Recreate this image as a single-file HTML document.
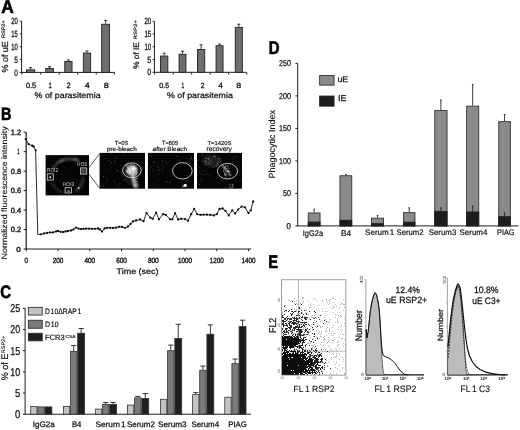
<!DOCTYPE html>
<html><head><meta charset="utf-8"><style>
html,body{margin:0;padding:0;background:#fff;}
body{width:520px;height:430px;overflow:hidden;}
svg{display:block;font-family:"Liberation Sans",Arial,sans-serif;text-rendering:geometricPrecision;}
</style></head><body>
<svg width="520" height="430" viewBox="0 0 520 430">
<rect width="520" height="430" fill="#fff"/>
<text transform="translate(1.2 12.6) scale(0.95 1)" font-size="18.31" font-weight="bold" fill="#000" stroke="#000" stroke-width="0.6">A</text>
<line x1="21.6" y1="21.1" x2="21.6" y2="72.9" stroke="#1e1e1e" stroke-width="1"/>
<line x1="21.6" y1="72.4" x2="114.6" y2="72.4" stroke="#1e1e1e" stroke-width="1"/>
<line x1="19.8" y1="72.4" x2="21.6" y2="72.4" stroke="#1e1e1e" stroke-width="1"/>
<line x1="19.8" y1="59.58" x2="21.6" y2="59.58" stroke="#1e1e1e" stroke-width="1"/>
<line x1="19.8" y1="46.75" x2="21.6" y2="46.75" stroke="#1e1e1e" stroke-width="1"/>
<line x1="19.8" y1="33.93" x2="21.6" y2="33.93" stroke="#1e1e1e" stroke-width="1"/>
<line x1="19.8" y1="21.1" x2="21.6" y2="21.1" stroke="#1e1e1e" stroke-width="1"/>
<line x1="22" y1="72.4" x2="22" y2="74.6" stroke="#1e1e1e" stroke-width="1"/>
<line x1="40.8" y1="72.4" x2="40.8" y2="74.6" stroke="#1e1e1e" stroke-width="1"/>
<line x1="59.2" y1="72.4" x2="59.2" y2="74.6" stroke="#1e1e1e" stroke-width="1"/>
<line x1="77.7" y1="72.4" x2="77.7" y2="74.6" stroke="#1e1e1e" stroke-width="1"/>
<line x1="96.2" y1="72.4" x2="96.2" y2="74.6" stroke="#1e1e1e" stroke-width="1"/>
<line x1="114.3" y1="72.4" x2="114.3" y2="74.6" stroke="#1e1e1e" stroke-width="1"/>
<text transform="translate(14.2 75.51) scale(0.72 1)" font-size="9.04" fill="#111" stroke="#111" stroke-width="0.3">0</text>
<text transform="translate(14.2 62.68) scale(0.71 1)" font-size="9.17" fill="#111" stroke="#111" stroke-width="0.3">5</text>
<text transform="translate(11.3 49.86) scale(0.65 1)" font-size="9.04" fill="#111" stroke="#111" stroke-width="0.3">10</text>
<text transform="translate(11.3 37.03) scale(0.64 1)" font-size="9.17" fill="#111" stroke="#111" stroke-width="0.3">15</text>
<text transform="translate(11.3 24.21) scale(0.65 1)" font-size="9.04" fill="#111" stroke="#111" stroke-width="0.3">20</text>
<line x1="30.65" y1="69.4" x2="30.65" y2="67.6" stroke="#222" stroke-width="0.9"/>
<line x1="29.05" y1="67.6" x2="32.25" y2="67.6" stroke="#222" stroke-width="0.9"/>
<rect x="26.55" y="69.85" width="8.2" height="2.55" fill="#6e6e6e" stroke="#222" stroke-width="0.9"/>
<line x1="49.6" y1="68.1" x2="49.6" y2="66.7" stroke="#222" stroke-width="0.9"/>
<line x1="48" y1="66.7" x2="51.2" y2="66.7" stroke="#222" stroke-width="0.9"/>
<rect x="45.75" y="68.55" width="7.7" height="3.85" fill="#6e6e6e" stroke="#222" stroke-width="0.9"/>
<line x1="68.4" y1="61" x2="68.4" y2="60" stroke="#222" stroke-width="0.9"/>
<line x1="66.8" y1="60" x2="70" y2="60" stroke="#222" stroke-width="0.9"/>
<rect x="64.75" y="61.45" width="7.3" height="10.95" fill="#6e6e6e" stroke="#222" stroke-width="0.9"/>
<line x1="87" y1="52.6" x2="87" y2="51" stroke="#222" stroke-width="0.9"/>
<line x1="85.4" y1="51" x2="88.6" y2="51" stroke="#222" stroke-width="0.9"/>
<rect x="83.35" y="53.05" width="7.3" height="19.35" fill="#6e6e6e" stroke="#222" stroke-width="0.9"/>
<line x1="105.6" y1="23.8" x2="105.6" y2="20.3" stroke="#222" stroke-width="0.9"/>
<line x1="104" y1="20.3" x2="107.2" y2="20.3" stroke="#222" stroke-width="0.9"/>
<rect x="101.65" y="24.25" width="7.9" height="48.15" fill="#6e6e6e" stroke="#222" stroke-width="0.9"/>
<text transform="translate(25.9 88.32) scale(0.95 1)" font-size="7.63" fill="#111" stroke="#111" stroke-width="0.3">0.5</text>
<text transform="translate(48.5 88.4) scale(0.73 1)" font-size="7.85" fill="#111" stroke="#111" stroke-width="0.3">1</text>
<text transform="translate(66.6 88.4) scale(0.95 1)" font-size="7.74" fill="#111" stroke="#111" stroke-width="0.3">2</text>
<text transform="translate(84.8 88.4) scale(1.15 1)" font-size="7.85" fill="#111" stroke="#111" stroke-width="0.3">4</text>
<text transform="translate(103.8 88.32) scale(1.18 1)" font-size="7.63" fill="#111" stroke="#111" stroke-width="0.3">8</text>
<text transform="translate(34.6 97.81) scale(1.09 1)" font-size="8.15" fill="#111" stroke="#111" stroke-width="0.25">% of parasitemia</text>
<text transform="translate(7.91 72.6) scale(0.98 1) rotate(-90)" font-size="8.99" fill="#111" stroke="#111" stroke-width="0.25">% of uE</text>
<text transform="translate(4.75 38) scale(0.89 1) rotate(-90)" font-size="5.54" fill="#111" stroke="#111" stroke-width="0.2">RSP2+</text>
<line x1="154.4" y1="21.3" x2="154.4" y2="72.8" stroke="#1e1e1e" stroke-width="1"/>
<line x1="154.4" y1="72.3" x2="246.5" y2="72.3" stroke="#1e1e1e" stroke-width="1"/>
<line x1="152.6" y1="72.3" x2="154.4" y2="72.3" stroke="#1e1e1e" stroke-width="1"/>
<line x1="152.6" y1="59.55" x2="154.4" y2="59.55" stroke="#1e1e1e" stroke-width="1"/>
<line x1="152.6" y1="46.8" x2="154.4" y2="46.8" stroke="#1e1e1e" stroke-width="1"/>
<line x1="152.6" y1="34.05" x2="154.4" y2="34.05" stroke="#1e1e1e" stroke-width="1"/>
<line x1="152.6" y1="21.3" x2="154.4" y2="21.3" stroke="#1e1e1e" stroke-width="1"/>
<line x1="154.6" y1="72.3" x2="154.6" y2="74.5" stroke="#1e1e1e" stroke-width="1"/>
<line x1="173.2" y1="72.3" x2="173.2" y2="74.5" stroke="#1e1e1e" stroke-width="1"/>
<line x1="191.6" y1="72.3" x2="191.6" y2="74.5" stroke="#1e1e1e" stroke-width="1"/>
<line x1="210.2" y1="72.3" x2="210.2" y2="74.5" stroke="#1e1e1e" stroke-width="1"/>
<line x1="228.6" y1="72.3" x2="228.6" y2="74.5" stroke="#1e1e1e" stroke-width="1"/>
<line x1="246.8" y1="72.3" x2="246.8" y2="74.5" stroke="#1e1e1e" stroke-width="1"/>
<text transform="translate(147.3 75.41) scale(0.78 1)" font-size="9.04" fill="#111" stroke="#111" stroke-width="0.3">0</text>
<text transform="translate(147.3 62.66) scale(0.77 1)" font-size="9.17" fill="#111" stroke="#111" stroke-width="0.3">5</text>
<text transform="translate(144.5 49.91) scale(0.67 1)" font-size="9.04" fill="#111" stroke="#111" stroke-width="0.3">10</text>
<text transform="translate(144.5 37.16) scale(0.66 1)" font-size="9.17" fill="#111" stroke="#111" stroke-width="0.3">15</text>
<text transform="translate(144.5 24.41) scale(0.67 1)" font-size="9.04" fill="#111" stroke="#111" stroke-width="0.3">20</text>
<line x1="164.2" y1="55.6" x2="164.2" y2="53.2" stroke="#222" stroke-width="0.9"/>
<line x1="162.6" y1="53.2" x2="165.8" y2="53.2" stroke="#222" stroke-width="0.9"/>
<rect x="160.55" y="56.05" width="7.3" height="16.25" fill="#6e6e6e" stroke="#222" stroke-width="0.9"/>
<line x1="182.5" y1="53.8" x2="182.5" y2="51.2" stroke="#222" stroke-width="0.9"/>
<line x1="180.9" y1="51.2" x2="184.1" y2="51.2" stroke="#222" stroke-width="0.9"/>
<rect x="179.05" y="54.25" width="6.9" height="18.05" fill="#6e6e6e" stroke="#222" stroke-width="0.9"/>
<line x1="201.1" y1="49" x2="201.1" y2="44.8" stroke="#222" stroke-width="0.9"/>
<line x1="199.5" y1="44.8" x2="202.7" y2="44.8" stroke="#222" stroke-width="0.9"/>
<rect x="197.45" y="49.45" width="7.3" height="22.85" fill="#6e6e6e" stroke="#222" stroke-width="0.9"/>
<line x1="219.55" y1="45.3" x2="219.55" y2="44.2" stroke="#222" stroke-width="0.9"/>
<line x1="217.95" y1="44.2" x2="221.15" y2="44.2" stroke="#222" stroke-width="0.9"/>
<rect x="216.05" y="45.75" width="7" height="26.55" fill="#6e6e6e" stroke="#222" stroke-width="0.9"/>
<line x1="238.8" y1="26.9" x2="238.8" y2="24.2" stroke="#222" stroke-width="0.9"/>
<line x1="237.2" y1="24.2" x2="240.4" y2="24.2" stroke="#222" stroke-width="0.9"/>
<rect x="235.25" y="27.35" width="7.1" height="44.95" fill="#6e6e6e" stroke="#222" stroke-width="0.9"/>
<text transform="translate(159.3 87.93) scale(0.94 1)" font-size="7.49" fill="#111" stroke="#111" stroke-width="0.3">0.5</text>
<text transform="translate(181.6 88) scale(0.63 1)" font-size="7.7" fill="#111" stroke="#111" stroke-width="0.3">1</text>
<text transform="translate(200.8 88) scale(0.9 1)" font-size="7.59" fill="#111" stroke="#111" stroke-width="0.3">2</text>
<text transform="translate(218.5 88) scale(1 1)" font-size="7.7" fill="#111" stroke="#111" stroke-width="0.3">4</text>
<text transform="translate(236.3 87.93) scale(1.18 1)" font-size="7.49" fill="#111" stroke="#111" stroke-width="0.3">8</text>
<text transform="translate(167 97.93) scale(1.1 1)" font-size="8.04" fill="#111" stroke="#111" stroke-width="0.25">% of parasitemia</text>
<text transform="translate(139.32 68.8) scale(0.99 1) rotate(-90)" font-size="8.25" fill="#111" stroke="#111" stroke-width="0.25">% of IE</text>
<text transform="translate(137.35 39.4) scale(0.79 1) rotate(-90)" font-size="6.07" fill="#111" stroke="#111" stroke-width="0.2">RSP2+</text>
<text transform="translate(1 119.6) scale(0.81 1)" font-size="17.88" font-weight="bold" fill="#000" stroke="#000" stroke-width="0.6">B</text>
<line x1="26.2" y1="132.18" x2="26.2" y2="249.5" stroke="#1e1e1e" stroke-width="1.2"/>
<line x1="26.2" y1="249" x2="251.2" y2="249" stroke="#1e1e1e" stroke-width="1.2"/>
<line x1="23.6" y1="249" x2="26.2" y2="249" stroke="#1e1e1e" stroke-width="1"/>
<line x1="23.6" y1="229.53" x2="26.2" y2="229.53" stroke="#1e1e1e" stroke-width="1"/>
<line x1="23.6" y1="210.06" x2="26.2" y2="210.06" stroke="#1e1e1e" stroke-width="1"/>
<line x1="23.6" y1="190.59" x2="26.2" y2="190.59" stroke="#1e1e1e" stroke-width="1"/>
<line x1="23.6" y1="171.12" x2="26.2" y2="171.12" stroke="#1e1e1e" stroke-width="1"/>
<line x1="23.6" y1="151.65" x2="26.2" y2="151.65" stroke="#1e1e1e" stroke-width="1"/>
<line x1="23.6" y1="132.18" x2="26.2" y2="132.18" stroke="#1e1e1e" stroke-width="1"/>
<line x1="26.3" y1="249" x2="26.3" y2="251.2" stroke="#1e1e1e" stroke-width="1"/>
<line x1="58.04" y1="249" x2="58.04" y2="251.2" stroke="#1e1e1e" stroke-width="1"/>
<line x1="89.78" y1="249" x2="89.78" y2="251.2" stroke="#1e1e1e" stroke-width="1"/>
<line x1="121.52" y1="249" x2="121.52" y2="251.2" stroke="#1e1e1e" stroke-width="1"/>
<line x1="153.26" y1="249" x2="153.26" y2="251.2" stroke="#1e1e1e" stroke-width="1"/>
<line x1="185" y1="249" x2="185" y2="251.2" stroke="#1e1e1e" stroke-width="1"/>
<line x1="216.74" y1="249" x2="216.74" y2="251.2" stroke="#1e1e1e" stroke-width="1"/>
<line x1="248.48" y1="249" x2="248.48" y2="251.2" stroke="#1e1e1e" stroke-width="1"/>
<text transform="translate(16.3 251.53) scale(1.13 1)" font-size="7.34" fill="#111" stroke="#111" stroke-width="0.35">0</text>
<text transform="translate(10.8 232.11) scale(0.99 1)" font-size="7.49" fill="#111" stroke="#111" stroke-width="0.35">0.2</text>
<text transform="translate(10.8 212.64) scale(0.99 1)" font-size="7.49" fill="#111" stroke="#111" stroke-width="0.35">0.4</text>
<text transform="translate(10.8 193.17) scale(0.99 1)" font-size="7.49" fill="#111" stroke="#111" stroke-width="0.35">0.6</text>
<text transform="translate(10.8 173.7) scale(0.99 1)" font-size="7.49" fill="#111" stroke="#111" stroke-width="0.35">0.8</text>
<text transform="translate(17.3 154.25) scale(0.55 1)" font-size="7.56" fill="#111" stroke="#111" stroke-width="0.35">1</text>
<text transform="translate(10.8 134.83) scale(0.98 1)" font-size="7.59" fill="#111" stroke="#111" stroke-width="0.35">1.2</text>
<text transform="translate(24.6 263.13) scale(0.82 1)" font-size="7.49" fill="#111" stroke="#111" stroke-width="0.35">0</text>
<text transform="translate(52.69 263.13) scale(0.86 1)" font-size="7.49" fill="#111" stroke="#111" stroke-width="0.35">200</text>
<text transform="translate(84.43 263.13) scale(0.86 1)" font-size="7.49" fill="#111" stroke="#111" stroke-width="0.35">400</text>
<text transform="translate(116.17 263.13) scale(0.86 1)" font-size="7.49" fill="#111" stroke="#111" stroke-width="0.35">600</text>
<text transform="translate(147.91 263.13) scale(0.86 1)" font-size="7.49" fill="#111" stroke="#111" stroke-width="0.35">800</text>
<text transform="translate(178 263.13) scale(0.84 1)" font-size="7.49" fill="#111" stroke="#111" stroke-width="0.35">1000</text>
<text transform="translate(209.74 263.13) scale(0.84 1)" font-size="7.49" fill="#111" stroke="#111" stroke-width="0.35">1200</text>
<text transform="translate(241.48 263.13) scale(0.84 1)" font-size="7.49" fill="#111" stroke="#111" stroke-width="0.35">1400</text>
<text transform="translate(116.6 273.73) scale(1.11 1)" font-size="8.05" fill="#111" stroke="#111" stroke-width="0.25">Time (sec)</text>
<text transform="translate(7.25 259.4) scale(0.89 1) rotate(-90)" font-size="8.91" fill="#111" stroke="#111" stroke-width="0.12">Normalized fluorescence intensity</text>
<polyline points="25.8,139.2 28.7,144.2 32.2,145.7 33.6,146.5 35.6,150.3 37.8,234.5 41,234.3 44,233.5 47,233 50,232.5 53,232.4 56,231.5 58,231 60.5,231.8 63,232.1 65.5,231.5 68,231 71,230.5 73.5,229.5 76,227.6 78.5,228.6 81,229.1 83.5,228.8 86,228.7 89,228.7 92,228.8 95,228.8 98,228.5 100,229.5 102,231.5 104.5,228.5 107,227.8 110,227.8 113,228 116,227.7 119,226.8 122,227 125,227.8 128,226.5 130.5,224 133,221.5 136,220.5 140,219.5 143.5,221.2 146.5,213.1 150.4,217.7 152.7,218.8 156.2,212.6 158.9,219.3 163.1,214.2 165.8,214.9 170,219.3 172.3,219.3 175.1,213.1 178.1,219.5 181.1,218.8 185,219.1 188,220.7 191.2,214.2 194.2,208.9 197.2,214.2 200.5,214.9 203.5,214.7 206.9,214.7 210.4,214.9 213.8,215.4 216.8,214.2 219.6,208.9 222.6,208.5 225.4,210.8 228.8,215.4 232.3,210.3 235.1,213.5 238.1,209.6 241.5,206.6 245,207.3 248.5,213.1 250.8,210.3 253.1,201.5" fill="none" stroke="#111" stroke-width="0.9" stroke-linejoin="round"/>
<g fill="#111"><circle cx="25.8" cy="139.2" r="1.15"/><circle cx="28.7" cy="144.2" r="1.15"/><circle cx="32.2" cy="145.7" r="1.15"/><circle cx="33.6" cy="146.5" r="1.15"/><circle cx="35.6" cy="150.3" r="1.15"/><circle cx="41" cy="234.3" r="1.15"/><circle cx="44" cy="233.5" r="1.15"/><circle cx="47" cy="233" r="1.15"/><circle cx="50" cy="232.5" r="1.15"/><circle cx="53" cy="232.4" r="1.15"/><circle cx="56" cy="231.5" r="1.15"/><circle cx="58" cy="231" r="1.15"/><circle cx="60.5" cy="231.8" r="1.15"/><circle cx="63" cy="232.1" r="1.15"/><circle cx="65.5" cy="231.5" r="1.15"/><circle cx="68" cy="231" r="1.15"/><circle cx="71" cy="230.5" r="1.15"/><circle cx="73.5" cy="229.5" r="1.15"/><circle cx="76" cy="227.6" r="1.15"/><circle cx="78.5" cy="228.6" r="1.15"/><circle cx="81" cy="229.1" r="1.15"/><circle cx="83.5" cy="228.8" r="1.15"/><circle cx="86" cy="228.7" r="1.15"/><circle cx="89" cy="228.7" r="1.15"/><circle cx="92" cy="228.8" r="1.15"/><circle cx="95" cy="228.8" r="1.15"/><circle cx="98" cy="228.5" r="1.15"/><circle cx="100" cy="229.5" r="1.15"/><circle cx="102" cy="231.5" r="1.15"/><circle cx="104.5" cy="228.5" r="1.15"/><circle cx="107" cy="227.8" r="1.15"/><circle cx="110" cy="227.8" r="1.15"/><circle cx="113" cy="228" r="1.15"/><circle cx="116" cy="227.7" r="1.15"/><circle cx="119" cy="226.8" r="1.15"/><circle cx="122" cy="227" r="1.15"/><circle cx="125" cy="227.8" r="1.15"/><circle cx="128" cy="226.5" r="1.15"/><circle cx="130.5" cy="224" r="1.15"/><circle cx="133" cy="221.5" r="1.15"/><circle cx="136" cy="220.5" r="1.15"/><circle cx="140" cy="219.5" r="1.15"/><circle cx="143.5" cy="221.2" r="1.15"/><circle cx="146.5" cy="213.1" r="1.15"/><circle cx="150.4" cy="217.7" r="1.15"/><circle cx="152.7" cy="218.8" r="1.15"/><circle cx="156.2" cy="212.6" r="1.15"/><circle cx="158.9" cy="219.3" r="1.15"/><circle cx="163.1" cy="214.2" r="1.15"/><circle cx="165.8" cy="214.9" r="1.15"/><circle cx="170" cy="219.3" r="1.15"/><circle cx="172.3" cy="219.3" r="1.15"/><circle cx="175.1" cy="213.1" r="1.15"/><circle cx="178.1" cy="219.5" r="1.15"/><circle cx="181.1" cy="218.8" r="1.15"/><circle cx="185" cy="219.1" r="1.15"/><circle cx="188" cy="220.7" r="1.15"/><circle cx="191.2" cy="214.2" r="1.15"/><circle cx="194.2" cy="208.9" r="1.15"/><circle cx="197.2" cy="214.2" r="1.15"/><circle cx="200.5" cy="214.9" r="1.15"/><circle cx="203.5" cy="214.7" r="1.15"/><circle cx="206.9" cy="214.7" r="1.15"/><circle cx="210.4" cy="214.9" r="1.15"/><circle cx="213.8" cy="215.4" r="1.15"/><circle cx="216.8" cy="214.2" r="1.15"/><circle cx="219.6" cy="208.9" r="1.15"/><circle cx="222.6" cy="208.5" r="1.15"/><circle cx="225.4" cy="210.8" r="1.15"/><circle cx="228.8" cy="215.4" r="1.15"/><circle cx="232.3" cy="210.3" r="1.15"/><circle cx="235.1" cy="213.5" r="1.15"/><circle cx="238.1" cy="209.6" r="1.15"/><circle cx="241.5" cy="206.6" r="1.15"/><circle cx="245" cy="207.3" r="1.15"/><circle cx="248.5" cy="213.1" r="1.15"/><circle cx="250.8" cy="210.3" r="1.15"/><circle cx="253.1" cy="201.5" r="1.15"/></g>
<defs><filter id="bl1" x="-50%" y="-50%" width="200%" height="200%"><feGaussianBlur stdDeviation="0.9"/></filter><filter id="bl2" x="-50%" y="-50%" width="200%" height="200%"><feGaussianBlur stdDeviation="1.6"/></filter><filter id="bl05" x="-50%" y="-50%" width="200%" height="200%"><feGaussianBlur stdDeviation="0.45"/></filter><clipPath id="cpo"><rect x="45.6" y="155.1" width="43.4" height="40.3"/></clipPath><clipPath id="cp1"><rect x="99.6" y="152.9" width="45.4" height="35.8"/></clipPath><clipPath id="cp2"><rect x="147.9" y="152.9" width="46.1" height="35.8"/></clipPath><clipPath id="cp3"><rect x="197.0" y="152.9" width="45.0" height="35.8"/></clipPath></defs>
<rect x="45.6" y="155.1" width="43.4" height="40.3" fill="#050505" stroke="none" stroke-width="1"/>
<g clip-path="url(#cpo)">
<g filter="url(#bl1)" fill="none" stroke-linecap="round">
<path d="M57 163 Q66 157 76 160" stroke="#5a5a5a" stroke-width="2.2"/>
<path d="M53 168 L56 165" stroke="#6a6a6a" stroke-width="1.4"/>
<path d="M83 178 Q82 187 76 191" stroke="#555" stroke-width="1.6"/>
<path d="M52 183 Q56 190 62 192" stroke="#3a3a3a" stroke-width="1.6"/>
<path d="M75 159 L79 161" stroke="#8a8a8a" stroke-width="1.4"/>
<path d="M61 161 L63 160" stroke="#888" stroke-width="1.8"/>
</g>
<circle cx="78.6" cy="187.9" r="0.9" fill="#ddd"/>
<rect x="59.44" y="161.31" width="0.53" height="0.53" fill="rgb(46,46,46)"/><rect x="68.24" y="169.58" width="0.7" height="0.7" fill="rgb(22,22,22)"/><rect x="47.56" y="172.2" width="0.54" height="0.54" fill="rgb(22,22,22)"/><rect x="63.62" y="187.33" width="0.59" height="0.59" fill="rgb(24,24,24)"/><rect x="72.04" y="191.99" width="0.66" height="0.66" fill="rgb(43,43,43)"/><rect x="86.51" y="157.29" width="0.62" height="0.62" fill="rgb(54,54,54)"/><rect x="51.99" y="160.04" width="0.83" height="0.83" fill="rgb(32,32,32)"/><rect x="53.5" y="177.89" width="0.65" height="0.65" fill="rgb(45,45,45)"/><rect x="68.73" y="157.92" width="0.58" height="0.58" fill="rgb(22,22,22)"/><rect x="74.24" y="171.96" width="0.73" height="0.73" fill="rgb(32,32,32)"/><rect x="64.81" y="167.04" width="0.78" height="0.78" fill="rgb(51,51,51)"/><rect x="56.13" y="177.62" width="0.85" height="0.85" fill="rgb(41,41,41)"/><rect x="76.27" y="166.59" width="0.55" height="0.55" fill="rgb(59,59,59)"/><rect x="63.35" y="184.65" width="0.7" height="0.7" fill="rgb(26,26,26)"/><rect x="47.63" y="181.23" width="0.73" height="0.73" fill="rgb(50,50,50)"/><rect x="82.33" y="167.58" width="0.74" height="0.74" fill="rgb(47,47,47)"/><rect x="70.07" y="173.06" width="0.88" height="0.88" fill="rgb(53,53,53)"/><rect x="65.68" y="181.07" width="0.78" height="0.78" fill="rgb(22,22,22)"/><rect x="72.86" y="193.73" width="0.61" height="0.61" fill="rgb(52,52,52)"/><rect x="62.01" y="181.24" width="0.68" height="0.68" fill="rgb(20,20,20)"/><rect x="52.97" y="160.01" width="0.81" height="0.81" fill="rgb(22,22,22)"/><rect x="51.37" y="165.03" width="0.85" height="0.85" fill="rgb(35,35,35)"/><rect x="49.34" y="172.79" width="0.85" height="0.85" fill="rgb(41,41,41)"/><rect x="80" y="188.76" width="0.67" height="0.67" fill="rgb(31,31,31)"/><rect x="60.89" y="189.54" width="0.56" height="0.56" fill="rgb(58,58,58)"/><rect x="53.31" y="164.43" width="0.69" height="0.69" fill="rgb(29,29,29)"/><rect x="70.45" y="165.62" width="0.67" height="0.67" fill="rgb(20,20,20)"/><rect x="61.32" y="177.3" width="0.78" height="0.78" fill="rgb(58,58,58)"/><rect x="67.39" y="179.28" width="0.52" height="0.52" fill="rgb(47,47,47)"/><rect x="83.33" y="185.53" width="0.82" height="0.82" fill="rgb(54,54,54)"/>
</g>
<rect x="80.5" y="167.9" width="6.2" height="6.2" fill="#333" stroke="#cfcfcf" stroke-width="0.8"/>
<rect x="81.5" y="169" width="3.5" height="3.5" fill="#555" filter="url(#bl1)"/>
<rect x="47.3" y="173.8" width="6" height="6.3" fill="#111" stroke="#cfcfcf" stroke-width="0.8"/>
<rect x="65.1" y="187.7" width="6.3" height="5.3" fill="#111" stroke="#cfcfcf" stroke-width="0.8"/>
<circle cx="50.2" cy="177.2" r="0.9" fill="#eee"/>
<rect x="67.3" y="190.6" width="2.6" height="0.9" fill="#bbb"/>
<text transform="translate(77.3 166.25) scale(0.89 1)" font-size="5.23" fill="#cfcfcf">ROS</text>
<text transform="translate(47.1 172.24) scale(0.81 1)" font-size="5.79" fill="#cfcfcf">ROI2</text>
<text transform="translate(62.8 186.45) scale(0.94 1)" font-size="5.23" fill="#cfcfcf">ROI3</text>
<line x1="89" y1="167.6" x2="99.8" y2="153.3" stroke="#333" stroke-width="0.8"/>
<line x1="89" y1="174.2" x2="99.8" y2="188.4" stroke="#333" stroke-width="0.8"/>
<rect x="99.6" y="152.9" width="45.4" height="35.8" fill="#050505" stroke="none" stroke-width="1"/>
<rect x="147.9" y="152.9" width="46.1" height="35.8" fill="#050505" stroke="none" stroke-width="1"/>
<rect x="197" y="152.9" width="45" height="35.8" fill="#050505" stroke="none" stroke-width="1"/>
<g clip-path="url(#cp1)">
<ellipse cx="131" cy="173" rx="9" ry="11" fill="#181818" filter="url(#bl2)"/>
<rect x="117.02" y="166.78" width="0.82" height="0.82" fill="rgb(31,31,31)"/><rect x="102.36" y="155.24" width="0.58" height="0.58" fill="rgb(38,38,38)"/><rect x="114.7" y="154.73" width="0.58" height="0.58" fill="rgb(25,25,25)"/><rect x="104.11" y="165.55" width="0.94" height="0.94" fill="rgb(26,26,26)"/><rect x="126.86" y="158.07" width="0.67" height="0.67" fill="rgb(41,41,41)"/><rect x="115.77" y="157.17" width="1" height="1" fill="rgb(80,80,80)"/><rect x="120.29" y="169.74" width="0.55" height="0.55" fill="rgb(30,30,30)"/><rect x="114.81" y="162.11" width="0.58" height="0.58" fill="rgb(78,78,78)"/><rect x="100.63" y="185.99" width="0.57" height="0.57" fill="rgb(59,59,59)"/><rect x="123.72" y="153.84" width="0.99" height="0.99" fill="rgb(59,59,59)"/><rect x="137.93" y="177.13" width="0.68" height="0.68" fill="rgb(41,41,41)"/><rect x="107.02" y="179.76" width="0.89" height="0.89" fill="rgb(59,59,59)"/><rect x="114.24" y="160.66" width="0.99" height="0.99" fill="rgb(77,77,77)"/><rect x="137.46" y="180.95" width="0.87" height="0.87" fill="rgb(78,78,78)"/><rect x="109.67" y="170.91" width="0.51" height="0.51" fill="rgb(48,48,48)"/><rect x="100.84" y="162.62" width="0.85" height="0.85" fill="rgb(41,41,41)"/><rect x="142.07" y="168.46" width="0.99" height="0.99" fill="rgb(85,85,85)"/><rect x="142" y="165.59" width="0.61" height="0.61" fill="rgb(39,39,39)"/><rect x="108.33" y="160.01" width="0.95" height="0.95" fill="rgb(65,65,65)"/><rect x="136.92" y="169.59" width="0.9" height="0.9" fill="rgb(67,67,67)"/><rect x="103.36" y="175.89" width="0.89" height="0.89" fill="rgb(84,84,84)"/><rect x="132.91" y="169.54" width="0.89" height="0.89" fill="rgb(36,36,36)"/><rect x="114.36" y="180.77" width="0.7" height="0.7" fill="rgb(88,88,88)"/><rect x="117.42" y="185.85" width="0.59" height="0.59" fill="rgb(72,72,72)"/><rect x="105.24" y="158.16" width="0.9" height="0.9" fill="rgb(83,83,83)"/><rect x="106.09" y="181.66" width="0.83" height="0.83" fill="rgb(88,88,88)"/><rect x="115.16" y="171.99" width="0.51" height="0.51" fill="rgb(33,33,33)"/><rect x="142.71" y="175.51" width="0.97" height="0.97" fill="rgb(59,59,59)"/><rect x="118.86" y="183.24" width="0.61" height="0.61" fill="rgb(78,78,78)"/><rect x="110.78" y="163.1" width="0.79" height="0.79" fill="rgb(40,40,40)"/><rect x="111.12" y="167.48" width="0.96" height="0.96" fill="rgb(33,33,33)"/><rect x="115.31" y="168.84" width="0.95" height="0.95" fill="rgb(62,62,62)"/><rect x="118.28" y="184.84" width="0.77" height="0.77" fill="rgb(57,57,57)"/><rect x="122.84" y="153.55" width="0.59" height="0.59" fill="rgb(53,53,53)"/><rect x="99.77" y="180.71" width="0.74" height="0.74" fill="rgb(36,36,36)"/><rect x="131.8" y="172.27" width="0.76" height="0.76" fill="rgb(46,46,46)"/><rect x="124.26" y="180.19" width="0.78" height="0.78" fill="rgb(31,31,31)"/><rect x="110.63" y="162.54" width="0.75" height="0.75" fill="rgb(75,75,75)"/><rect x="124.54" y="179.35" width="0.72" height="0.72" fill="rgb(84,84,84)"/><rect x="126.8" y="170.49" width="0.85" height="0.85" fill="rgb(58,58,58)"/><rect x="119.68" y="171.46" width="0.97" height="0.97" fill="rgb(56,56,56)"/><rect x="130.65" y="183.4" width="0.63" height="0.63" fill="rgb(86,86,86)"/><rect x="124.44" y="185.73" width="0.57" height="0.57" fill="rgb(79,79,79)"/><rect x="105" y="168.29" width="0.62" height="0.62" fill="rgb(29,29,29)"/><rect x="102.85" y="176.2" width="0.95" height="0.95" fill="rgb(75,75,75)"/><rect x="106.46" y="177.82" width="0.57" height="0.57" fill="rgb(67,67,67)"/><rect x="138.8" y="186.57" width="0.98" height="0.98" fill="rgb(39,39,39)"/><rect x="117.28" y="169.86" width="0.92" height="0.92" fill="rgb(89,89,89)"/><rect x="106.77" y="167.92" width="0.67" height="0.67" fill="rgb(58,58,58)"/><rect x="108.29" y="163.98" width="0.51" height="0.51" fill="rgb(71,71,71)"/><rect x="124.2" y="168.23" width="0.67" height="0.67" fill="rgb(26,26,26)"/><rect x="127.3" y="170.73" width="0.99" height="0.99" fill="rgb(29,29,29)"/><rect x="134.6" y="186.72" width="0.63" height="0.63" fill="rgb(31,31,31)"/><rect x="101.36" y="180.01" width="0.56" height="0.56" fill="rgb(42,42,42)"/><rect x="118.35" y="184.62" width="0.63" height="0.63" fill="rgb(78,78,78)"/><rect x="106.23" y="184.89" width="0.85" height="0.85" fill="rgb(62,62,62)"/><rect x="103.57" y="154.9" width="0.71" height="0.71" fill="rgb(69,69,69)"/><rect x="102.82" y="185.55" width="0.9" height="0.9" fill="rgb(66,66,66)"/><rect x="103.32" y="182.7" width="0.93" height="0.93" fill="rgb(29,29,29)"/><rect x="119.75" y="164.7" width="0.96" height="0.96" fill="rgb(60,60,60)"/><rect x="111.49" y="157.4" width="0.62" height="0.62" fill="rgb(59,59,59)"/><rect x="104.46" y="158.52" width="0.6" height="0.6" fill="rgb(28,28,28)"/><rect x="113.45" y="163.51" width="0.64" height="0.64" fill="rgb(74,74,74)"/><rect x="121.8" y="159.09" width="0.51" height="0.51" fill="rgb(47,47,47)"/><rect x="110.72" y="153.43" width="0.78" height="0.78" fill="rgb(72,72,72)"/><rect x="108.01" y="169.42" width="0.55" height="0.55" fill="rgb(85,85,85)"/><rect x="135.96" y="167.94" width="0.92" height="0.92" fill="rgb(57,57,57)"/><rect x="117.05" y="170.53" width="0.99" height="0.99" fill="rgb(69,69,69)"/><rect x="114.82" y="181.86" width="0.82" height="0.82" fill="rgb(70,70,70)"/><rect x="117.57" y="164.99" width="0.56" height="0.56" fill="rgb(28,28,28)"/>
<g filter="url(#bl1)">
<ellipse cx="132" cy="170.5" rx="5" ry="5.2" fill="#cfcfcf"/>
<ellipse cx="128.2" cy="171.3" rx="2" ry="2" fill="#f0f0f0"/>
<ellipse cx="134" cy="168.5" rx="2.6" ry="2.4" fill="#fafafa"/>
<path d="M132.3 174 Q134 180 135.3 187" stroke="#c8c8c8" stroke-width="3.2" fill="none"/>
<ellipse cx="135.8" cy="185.5" rx="2" ry="3" fill="#b0b0b0"/>
<ellipse cx="127.5" cy="165.5" rx="1.8" ry="1.6" fill="#8a8a8a"/>
</g>
<rect x="135.77" y="172.91" width="0.7" height="0.7" fill="rgb(147,147,147)"/><rect x="135.85" y="173.52" width="1" height="1" fill="rgb(236,236,236)"/><rect x="130.96" y="173.63" width="0.88" height="0.88" fill="rgb(152,152,152)"/><rect x="133.52" y="174.13" width="1.18" height="1.18" fill="rgb(148,148,148)"/><rect x="135.51" y="169.68" width="1.18" height="1.18" fill="rgb(145,145,145)"/><rect x="130.3" y="174.11" width="0.83" height="0.83" fill="rgb(110,110,110)"/><rect x="127.65" y="171.23" width="0.9" height="0.9" fill="rgb(139,139,139)"/><rect x="134.33" y="170.6" width="0.84" height="0.84" fill="rgb(123,123,123)"/><rect x="132.3" y="170.75" width="0.74" height="0.74" fill="rgb(154,154,154)"/><rect x="128.06" y="168.08" width="0.99" height="0.99" fill="rgb(218,218,218)"/><rect x="130.41" y="164.54" width="0.8" height="0.8" fill="rgb(166,166,166)"/><rect x="133.62" y="170.26" width="0.99" height="0.99" fill="rgb(215,215,215)"/><rect x="136.34" y="172.11" width="0.98" height="0.98" fill="rgb(239,239,239)"/><rect x="131" y="164.67" width="0.91" height="0.91" fill="rgb(130,130,130)"/><rect x="126.48" y="170.34" width="1.1" height="1.1" fill="rgb(226,226,226)"/><rect x="127.01" y="167.4" width="1.02" height="1.02" fill="rgb(209,209,209)"/><rect x="131.62" y="171.64" width="0.82" height="0.82" fill="rgb(129,129,129)"/><rect x="135.47" y="174.14" width="0.98" height="0.98" fill="rgb(190,190,190)"/><rect x="128.32" y="166.68" width="0.6" height="0.6" fill="rgb(180,180,180)"/><rect x="132.9" y="165.13" width="0.92" height="0.92" fill="rgb(182,182,182)"/><rect x="130.74" y="169.09" width="0.75" height="0.75" fill="rgb(216,216,216)"/><rect x="134.03" y="172.01" width="0.72" height="0.72" fill="rgb(215,215,215)"/><rect x="131.15" y="164.09" width="0.83" height="0.83" fill="rgb(181,181,181)"/><rect x="126.99" y="171.21" width="0.97" height="0.97" fill="rgb(221,221,221)"/><rect x="130.54" y="169.09" width="0.75" height="0.75" fill="rgb(131,131,131)"/><rect x="131.37" y="166.92" width="0.61" height="0.61" fill="rgb(192,192,192)"/><rect x="134.15" y="171.75" width="1.02" height="1.02" fill="rgb(207,207,207)"/><rect x="130.17" y="167.37" width="0.88" height="0.88" fill="rgb(184,184,184)"/><rect x="129.65" y="170.97" width="0.72" height="0.72" fill="rgb(239,239,239)"/><rect x="136.77" y="169.64" width="0.88" height="0.88" fill="rgb(112,112,112)"/><rect x="133.8" y="164.71" width="0.76" height="0.76" fill="rgb(175,175,175)"/><rect x="132.84" y="176.62" width="0.95" height="0.95" fill="rgb(140,140,140)"/><rect x="134" y="174.16" width="0.68" height="0.68" fill="rgb(248,248,248)"/><rect x="133.18" y="166.31" width="1.02" height="1.02" fill="rgb(238,238,238)"/><rect x="132.11" y="176.62" width="0.61" height="0.61" fill="rgb(180,180,180)"/><rect x="135.36" y="170.6" width="0.78" height="0.78" fill="rgb(175,175,175)"/><rect x="133.55" y="173.45" width="1.1" height="1.1" fill="rgb(155,155,155)"/><rect x="136.27" y="170.56" width="0.67" height="0.67" fill="rgb(231,231,231)"/><rect x="135.66" y="168.05" width="0.77" height="0.77" fill="rgb(240,240,240)"/><rect x="129.11" y="173.43" width="0.95" height="0.95" fill="rgb(254,254,254)"/>
<rect x="133.49" y="183.26" width="0.62" height="0.62" fill="rgb(133,133,133)"/><rect x="136.26" y="183.54" width="1.07" height="1.07" fill="rgb(134,134,134)"/><rect x="134.51" y="183.35" width="0.69" height="0.69" fill="rgb(161,161,161)"/><rect x="132.86" y="184.54" width="1.01" height="1.01" fill="rgb(206,206,206)"/><rect x="132.94" y="175.45" width="0.87" height="0.87" fill="rgb(212,212,212)"/><rect x="134.4" y="178.58" width="0.83" height="0.83" fill="rgb(187,187,187)"/><rect x="134.53" y="174.78" width="0.62" height="0.62" fill="rgb(134,134,134)"/><rect x="135.27" y="178.97" width="0.77" height="0.77" fill="rgb(156,156,156)"/><rect x="133.89" y="185.34" width="0.73" height="0.73" fill="rgb(217,217,217)"/><rect x="133.77" y="177.04" width="0.8" height="0.8" fill="rgb(166,166,166)"/><rect x="134.98" y="182.27" width="1.05" height="1.05" fill="rgb(124,124,124)"/><rect x="133.37" y="180.06" width="1.1" height="1.1" fill="rgb(208,208,208)"/><rect x="133.65" y="180.75" width="0.65" height="0.65" fill="rgb(123,123,123)"/><rect x="134.1" y="181.64" width="0.73" height="0.73" fill="rgb(128,128,128)"/><rect x="132.45" y="177.41" width="0.81" height="0.81" fill="rgb(189,189,189)"/><rect x="133.01" y="182.42" width="0.77" height="0.77" fill="rgb(145,145,145)"/><rect x="135.67" y="181.3" width="0.66" height="0.66" fill="rgb(216,216,216)"/><rect x="132.6" y="179.89" width="0.71" height="0.71" fill="rgb(203,203,203)"/><rect x="134.34" y="183.21" width="0.82" height="0.82" fill="rgb(147,147,147)"/><rect x="136.62" y="178.29" width="0.61" height="0.61" fill="rgb(204,204,204)"/><rect x="136.48" y="181.1" width="0.84" height="0.84" fill="rgb(207,207,207)"/><rect x="134.47" y="179.95" width="1.06" height="1.06" fill="rgb(146,146,146)"/><rect x="135.52" y="174.65" width="0.72" height="0.72" fill="rgb(216,216,216)"/><rect x="135.23" y="181.62" width="0.94" height="0.94" fill="rgb(162,162,162)"/><rect x="136.4" y="178.02" width="0.98" height="0.98" fill="rgb(177,177,177)"/>
</g>
<g clip-path="url(#cp2)">
<rect x="168.53" y="172.09" width="0.89" height="0.89" fill="rgb(28,28,28)"/><rect x="158.39" y="184.91" width="0.65" height="0.65" fill="rgb(79,79,79)"/><rect x="153.67" y="161.66" width="0.85" height="0.85" fill="rgb(79,79,79)"/><rect x="152.96" y="155.35" width="0.79" height="0.79" fill="rgb(69,69,69)"/><rect x="165.4" y="160.68" width="0.51" height="0.51" fill="rgb(76,76,76)"/><rect x="161.5" y="168.93" width="0.82" height="0.82" fill="rgb(106,106,106)"/><rect x="187.76" y="169.44" width="0.62" height="0.62" fill="rgb(44,44,44)"/><rect x="191.22" y="177.42" width="0.51" height="0.51" fill="rgb(51,51,51)"/><rect x="170.37" y="176.37" width="0.63" height="0.63" fill="rgb(60,60,60)"/><rect x="178" y="185.1" width="0.52" height="0.52" fill="rgb(44,44,44)"/><rect x="163.15" y="167.54" width="0.6" height="0.6" fill="rgb(83,83,83)"/><rect x="183.85" y="178.62" width="0.6" height="0.6" fill="rgb(67,67,67)"/><rect x="191.64" y="163.75" width="0.62" height="0.62" fill="rgb(94,94,94)"/><rect x="157.89" y="179.36" width="0.98" height="0.98" fill="rgb(50,50,50)"/><rect x="170.26" y="159.42" width="0.71" height="0.71" fill="rgb(43,43,43)"/><rect x="177.9" y="185.92" width="0.7" height="0.7" fill="rgb(37,37,37)"/><rect x="157.5" y="186.8" width="0.53" height="0.53" fill="rgb(37,37,37)"/><rect x="150.61" y="166.59" width="0.94" height="0.94" fill="rgb(101,101,101)"/><rect x="180.95" y="187.61" width="0.66" height="0.66" fill="rgb(104,104,104)"/><rect x="156.27" y="185.47" width="0.52" height="0.52" fill="rgb(88,88,88)"/><rect x="177.87" y="166.08" width="0.67" height="0.67" fill="rgb(56,56,56)"/><rect x="155.53" y="153" width="0.68" height="0.68" fill="rgb(48,48,48)"/><rect x="190.99" y="157.21" width="0.6" height="0.6" fill="rgb(106,106,106)"/><rect x="163.98" y="181.49" width="0.72" height="0.72" fill="rgb(94,94,94)"/><rect x="150.12" y="169.38" width="0.96" height="0.96" fill="rgb(56,56,56)"/><rect x="156.61" y="165.58" width="0.52" height="0.52" fill="rgb(101,101,101)"/><rect x="166.43" y="181.15" width="0.52" height="0.52" fill="rgb(90,90,90)"/><rect x="149.47" y="155.08" width="0.63" height="0.63" fill="rgb(103,103,103)"/><rect x="181.6" y="184.17" width="0.64" height="0.64" fill="rgb(53,53,53)"/><rect x="191.09" y="174.37" width="0.86" height="0.86" fill="rgb(47,47,47)"/><rect x="162.17" y="162.49" width="0.88" height="0.88" fill="rgb(25,25,25)"/><rect x="189.23" y="174.96" width="0.51" height="0.51" fill="rgb(105,105,105)"/><rect x="158.45" y="169.44" width="0.98" height="0.98" fill="rgb(106,106,106)"/><rect x="165.33" y="161.64" width="0.75" height="0.75" fill="rgb(61,61,61)"/><rect x="189.76" y="159.27" width="0.87" height="0.87" fill="rgb(93,93,93)"/><rect x="185.01" y="179.79" width="0.66" height="0.66" fill="rgb(76,76,76)"/><rect x="162.31" y="165.49" width="0.54" height="0.54" fill="rgb(91,91,91)"/><rect x="156.8" y="179.1" width="0.53" height="0.53" fill="rgb(46,46,46)"/><rect x="149.43" y="172.13" width="0.99" height="0.99" fill="rgb(52,52,52)"/><rect x="187.74" y="187.28" width="0.54" height="0.54" fill="rgb(47,47,47)"/><rect x="152.25" y="170.25" width="0.72" height="0.72" fill="rgb(85,85,85)"/><rect x="158.46" y="167.41" width="0.84" height="0.84" fill="rgb(77,77,77)"/><rect x="181.63" y="182.38" width="0.56" height="0.56" fill="rgb(81,81,81)"/><rect x="185.82" y="163.12" width="0.69" height="0.69" fill="rgb(73,73,73)"/><rect x="181.19" y="159.83" width="0.62" height="0.62" fill="rgb(46,46,46)"/><rect x="154.81" y="183.67" width="0.66" height="0.66" fill="rgb(74,74,74)"/><rect x="165.76" y="187.44" width="0.62" height="0.62" fill="rgb(68,68,68)"/><rect x="184.36" y="175.64" width="0.55" height="0.55" fill="rgb(109,109,109)"/><rect x="169.31" y="181.4" width="0.96" height="0.96" fill="rgb(96,96,96)"/><rect x="149.72" y="163.12" width="0.59" height="0.59" fill="rgb(35,35,35)"/><rect x="191.78" y="173.2" width="0.69" height="0.69" fill="rgb(104,104,104)"/><rect x="186.96" y="168.53" width="0.89" height="0.89" fill="rgb(47,47,47)"/><rect x="190.55" y="156.58" width="0.81" height="0.81" fill="rgb(75,75,75)"/><rect x="157.72" y="165.73" width="0.6" height="0.6" fill="rgb(37,37,37)"/><rect x="159.4" y="173.76" width="0.6" height="0.6" fill="rgb(80,80,80)"/><rect x="148.41" y="164.29" width="0.59" height="0.59" fill="rgb(82,82,82)"/><rect x="161.98" y="159.98" width="0.77" height="0.77" fill="rgb(92,92,92)"/><rect x="150.75" y="156.43" width="0.78" height="0.78" fill="rgb(58,58,58)"/><rect x="176.73" y="156.07" width="0.85" height="0.85" fill="rgb(38,38,38)"/><rect x="166.38" y="162.76" width="0.98" height="0.98" fill="rgb(51,51,51)"/><rect x="161.99" y="172.61" width="0.71" height="0.71" fill="rgb(55,55,55)"/><rect x="186.88" y="187.58" width="0.6" height="0.6" fill="rgb(55,55,55)"/><rect x="180.73" y="159.99" width="0.95" height="0.95" fill="rgb(25,25,25)"/><rect x="167.01" y="181.45" width="0.94" height="0.94" fill="rgb(59,59,59)"/><rect x="168.69" y="158.56" width="0.78" height="0.78" fill="rgb(26,26,26)"/><rect x="176.79" y="184.56" width="0.81" height="0.81" fill="rgb(32,32,32)"/><rect x="164.63" y="170.46" width="0.64" height="0.64" fill="rgb(37,37,37)"/><rect x="171.4" y="185.11" width="0.75" height="0.75" fill="rgb(34,34,34)"/><rect x="184.2" y="186.55" width="0.56" height="0.56" fill="rgb(41,41,41)"/><rect x="190.43" y="186.85" width="0.53" height="0.53" fill="rgb(66,66,66)"/><rect x="189.67" y="166.4" width="0.81" height="0.81" fill="rgb(101,101,101)"/><rect x="185.09" y="158.48" width="0.61" height="0.61" fill="rgb(91,91,91)"/><rect x="166.14" y="182.35" width="0.59" height="0.59" fill="rgb(95,95,95)"/><rect x="157.74" y="166.81" width="0.69" height="0.69" fill="rgb(69,69,69)"/><rect x="153.45" y="161.5" width="0.95" height="0.95" fill="rgb(86,86,86)"/><rect x="149.75" y="172.47" width="0.52" height="0.52" fill="rgb(89,89,89)"/><rect x="185.7" y="157" width="0.78" height="0.78" fill="rgb(75,75,75)"/><rect x="176.18" y="163.56" width="0.79" height="0.79" fill="rgb(60,60,60)"/><rect x="167.1" y="175.83" width="0.72" height="0.72" fill="rgb(62,62,62)"/><rect x="148.95" y="174.44" width="0.62" height="0.62" fill="rgb(66,66,66)"/><rect x="182.34" y="180.04" width="0.59" height="0.59" fill="rgb(63,63,63)"/><rect x="169.24" y="156.63" width="0.72" height="0.72" fill="rgb(35,35,35)"/><rect x="152.04" y="168.28" width="0.52" height="0.52" fill="rgb(68,68,68)"/><rect x="176.6" y="155.76" width="0.89" height="0.89" fill="rgb(87,87,87)"/><rect x="170.97" y="154.79" width="0.69" height="0.69" fill="rgb(67,67,67)"/><rect x="190.78" y="157.64" width="1" height="1" fill="rgb(97,97,97)"/><rect x="180.92" y="181.26" width="0.99" height="0.99" fill="rgb(41,41,41)"/><rect x="170.08" y="186.19" width="0.58" height="0.58" fill="rgb(102,102,102)"/><rect x="183.46" y="185.28" width="0.68" height="0.68" fill="rgb(30,30,30)"/><rect x="182" y="158.43" width="0.64" height="0.64" fill="rgb(101,101,101)"/>
<g filter="url(#bl05)">
<ellipse cx="185.2" cy="185.4" rx="1.8" ry="1.6" fill="#eee"/>
<ellipse cx="183" cy="186.5" rx="1.2" ry="0.8" fill="#999"/>
</g>
</g>
<g clip-path="url(#cp3)">
<ellipse cx="212" cy="161" rx="10" ry="6" fill="#1e1e1e" filter="url(#bl2)"/>
<rect x="232.89" y="157.9" width="0.96" height="0.96" fill="rgb(67,67,67)"/><rect x="206.17" y="162.05" width="0.66" height="0.66" fill="rgb(68,68,68)"/><rect x="198.62" y="159.24" width="0.97" height="0.97" fill="rgb(38,38,38)"/><rect x="226.91" y="184.06" width="0.89" height="0.89" fill="rgb(39,39,39)"/><rect x="202.06" y="171.37" width="0.68" height="0.68" fill="rgb(79,79,79)"/><rect x="235.41" y="172.22" width="0.94" height="0.94" fill="rgb(74,74,74)"/><rect x="201.6" y="187.45" width="0.7" height="0.7" fill="rgb(78,78,78)"/><rect x="232.1" y="162.11" width="0.79" height="0.79" fill="rgb(109,109,109)"/><rect x="212.85" y="179.51" width="0.59" height="0.59" fill="rgb(62,62,62)"/><rect x="229.72" y="154.58" width="0.63" height="0.63" fill="rgb(94,94,94)"/><rect x="225.13" y="187.15" width="0.83" height="0.83" fill="rgb(74,74,74)"/><rect x="210.76" y="152.96" width="0.57" height="0.57" fill="rgb(27,27,27)"/><rect x="224.11" y="167.94" width="0.95" height="0.95" fill="rgb(68,68,68)"/><rect x="202.81" y="160.81" width="0.51" height="0.51" fill="rgb(80,80,80)"/><rect x="197.12" y="165.25" width="0.68" height="0.68" fill="rgb(34,34,34)"/><rect x="206.87" y="173.21" width="0.6" height="0.6" fill="rgb(75,75,75)"/><rect x="224.45" y="169.43" width="0.97" height="0.97" fill="rgb(36,36,36)"/><rect x="207.72" y="158.1" width="0.82" height="0.82" fill="rgb(33,33,33)"/><rect x="235.34" y="180.12" width="0.63" height="0.63" fill="rgb(59,59,59)"/><rect x="197.51" y="175.34" width="0.68" height="0.68" fill="rgb(72,72,72)"/><rect x="225.41" y="168.34" width="0.87" height="0.87" fill="rgb(104,104,104)"/><rect x="207.93" y="184.34" width="0.77" height="0.77" fill="rgb(28,28,28)"/><rect x="214.86" y="161.17" width="0.89" height="0.89" fill="rgb(29,29,29)"/><rect x="197.54" y="172.07" width="0.57" height="0.57" fill="rgb(104,104,104)"/><rect x="205.78" y="174.06" width="0.82" height="0.82" fill="rgb(68,68,68)"/><rect x="232.79" y="158.98" width="0.65" height="0.65" fill="rgb(51,51,51)"/><rect x="199.13" y="183.85" width="0.86" height="0.86" fill="rgb(91,91,91)"/><rect x="197.28" y="182.29" width="0.73" height="0.73" fill="rgb(88,88,88)"/><rect x="229.64" y="168.65" width="0.55" height="0.55" fill="rgb(44,44,44)"/><rect x="207.22" y="154.25" width="0.87" height="0.87" fill="rgb(53,53,53)"/><rect x="227.58" y="182.32" width="0.63" height="0.63" fill="rgb(85,85,85)"/><rect x="221.37" y="168.07" width="0.76" height="0.76" fill="rgb(92,92,92)"/><rect x="208.67" y="175.24" width="0.61" height="0.61" fill="rgb(107,107,107)"/><rect x="235.72" y="153.43" width="0.62" height="0.62" fill="rgb(47,47,47)"/><rect x="229.73" y="185.78" width="0.66" height="0.66" fill="rgb(88,88,88)"/><rect x="235.73" y="164.33" width="0.95" height="0.95" fill="rgb(45,45,45)"/><rect x="224.75" y="177.01" width="0.99" height="0.99" fill="rgb(81,81,81)"/><rect x="217.66" y="182.12" width="0.93" height="0.93" fill="rgb(84,84,84)"/><rect x="216.24" y="178.12" width="0.65" height="0.65" fill="rgb(73,73,73)"/><rect x="206.33" y="174.57" width="0.96" height="0.96" fill="rgb(31,31,31)"/><rect x="203.36" y="153.84" width="0.96" height="0.96" fill="rgb(34,34,34)"/><rect x="212.17" y="157.84" width="0.52" height="0.52" fill="rgb(27,27,27)"/><rect x="227.48" y="174.96" width="0.87" height="0.87" fill="rgb(84,84,84)"/><rect x="199.89" y="173.45" width="0.91" height="0.91" fill="rgb(55,55,55)"/><rect x="233.06" y="183.92" width="0.93" height="0.93" fill="rgb(30,30,30)"/><rect x="237.23" y="185.76" width="0.6" height="0.6" fill="rgb(34,34,34)"/><rect x="201.93" y="154.1" width="0.91" height="0.91" fill="rgb(97,97,97)"/><rect x="224.9" y="181.61" width="0.64" height="0.64" fill="rgb(78,78,78)"/><rect x="201.39" y="156.31" width="0.6" height="0.6" fill="rgb(89,89,89)"/><rect x="211.04" y="167.65" width="0.63" height="0.63" fill="rgb(26,26,26)"/><rect x="209.43" y="177.81" width="0.66" height="0.66" fill="rgb(56,56,56)"/><rect x="239.42" y="170.43" width="0.81" height="0.81" fill="rgb(97,97,97)"/><rect x="198.36" y="167.27" width="0.89" height="0.89" fill="rgb(62,62,62)"/><rect x="212.26" y="177.42" width="0.61" height="0.61" fill="rgb(70,70,70)"/><rect x="234.94" y="156.06" width="0.59" height="0.59" fill="rgb(94,94,94)"/><rect x="197.06" y="159.93" width="0.99" height="0.99" fill="rgb(89,89,89)"/><rect x="197.19" y="169.98" width="0.9" height="0.9" fill="rgb(66,66,66)"/><rect x="205.12" y="170.11" width="0.92" height="0.92" fill="rgb(54,54,54)"/><rect x="208.47" y="185.75" width="0.61" height="0.61" fill="rgb(49,49,49)"/><rect x="227.78" y="170.24" width="0.82" height="0.82" fill="rgb(34,34,34)"/><rect x="200.56" y="180.32" width="0.89" height="0.89" fill="rgb(84,84,84)"/><rect x="224.63" y="165.28" width="0.7" height="0.7" fill="rgb(59,59,59)"/><rect x="236.18" y="155.9" width="0.51" height="0.51" fill="rgb(100,100,100)"/><rect x="206.07" y="162.06" width="0.75" height="0.75" fill="rgb(101,101,101)"/><rect x="213.69" y="183.66" width="0.73" height="0.73" fill="rgb(44,44,44)"/><rect x="220.39" y="179.16" width="0.82" height="0.82" fill="rgb(89,89,89)"/><rect x="212.33" y="164.27" width="0.92" height="0.92" fill="rgb(38,38,38)"/><rect x="226.13" y="178.72" width="0.72" height="0.72" fill="rgb(39,39,39)"/><rect x="231.03" y="173.06" width="0.73" height="0.73" fill="rgb(35,35,35)"/><rect x="235.95" y="161.18" width="0.65" height="0.65" fill="rgb(41,41,41)"/><rect x="227.94" y="182.26" width="0.58" height="0.58" fill="rgb(38,38,38)"/><rect x="207.89" y="164.26" width="0.58" height="0.58" fill="rgb(69,69,69)"/><rect x="211.44" y="159.49" width="0.86" height="0.86" fill="rgb(107,107,107)"/><rect x="201.48" y="186.39" width="0.69" height="0.69" fill="rgb(33,33,33)"/><rect x="240.29" y="180.56" width="0.72" height="0.72" fill="rgb(87,87,87)"/><rect x="205.63" y="175.1" width="0.6" height="0.6" fill="rgb(34,34,34)"/><rect x="214.09" y="154.08" width="0.9" height="0.9" fill="rgb(58,58,58)"/><rect x="227.51" y="170.32" width="0.73" height="0.73" fill="rgb(78,78,78)"/><rect x="203.24" y="173.91" width="0.87" height="0.87" fill="rgb(59,59,59)"/><rect x="236.95" y="167.86" width="0.87" height="0.87" fill="rgb(73,73,73)"/>
<rect x="208.21" y="162.36" width="1.13" height="1.13" fill="rgb(124,124,124)"/><rect x="213.13" y="156.04" width="1.01" height="1.01" fill="rgb(136,136,136)"/><rect x="208.18" y="157.86" width="0.98" height="0.98" fill="rgb(88,88,88)"/><rect x="216.76" y="163.24" width="1.03" height="1.03" fill="rgb(130,130,130)"/><rect x="208.91" y="158.82" width="0.87" height="0.87" fill="rgb(98,98,98)"/><rect x="207.84" y="158.34" width="1.16" height="1.16" fill="rgb(120,120,120)"/><rect x="214.97" y="165.43" width="0.83" height="0.83" fill="rgb(130,130,130)"/><rect x="203.13" y="161.38" width="0.93" height="0.93" fill="rgb(63,63,63)"/><rect x="216.23" y="165.49" width="0.91" height="0.91" fill="rgb(144,144,144)"/><rect x="217.49" y="163.7" width="1.03" height="1.03" fill="rgb(108,108,108)"/><rect x="204.83" y="160.63" width="0.91" height="0.91" fill="rgb(134,134,134)"/><rect x="204.59" y="164.12" width="1.01" height="1.01" fill="rgb(78,78,78)"/><rect x="205.87" y="164.28" width="1.19" height="1.19" fill="rgb(71,71,71)"/><rect x="210.68" y="162.13" width="0.84" height="0.84" fill="rgb(84,84,84)"/><rect x="217.8" y="161.32" width="1.02" height="1.02" fill="rgb(97,97,97)"/><rect x="209.23" y="163.48" width="1.04" height="1.04" fill="rgb(80,80,80)"/><rect x="218.07" y="159.39" width="1.08" height="1.08" fill="rgb(79,79,79)"/><rect x="208.77" y="162.73" width="1.07" height="1.07" fill="rgb(71,71,71)"/><rect x="214.62" y="156.55" width="0.94" height="0.94" fill="rgb(102,102,102)"/><rect x="213.33" y="166.82" width="0.98" height="0.98" fill="rgb(91,91,91)"/><rect x="215.4" y="156.08" width="0.78" height="0.78" fill="rgb(102,102,102)"/><rect x="208.96" y="160.37" width="0.81" height="0.81" fill="rgb(135,135,135)"/><rect x="214.75" y="158.5" width="0.75" height="0.75" fill="rgb(93,93,93)"/><rect x="208.53" y="162.16" width="1.03" height="1.03" fill="rgb(60,60,60)"/><rect x="211.13" y="163.91" width="0.89" height="0.89" fill="rgb(87,87,87)"/><rect x="205.53" y="163.08" width="0.82" height="0.82" fill="rgb(119,119,119)"/><rect x="219.5" y="158.6" width="1.1" height="1.1" fill="rgb(65,65,65)"/><rect x="218.61" y="158.04" width="1.1" height="1.1" fill="rgb(72,72,72)"/><rect x="211.26" y="160.45" width="1.17" height="1.17" fill="rgb(61,61,61)"/><rect x="209.49" y="158.51" width="0.69" height="0.69" fill="rgb(69,69,69)"/><rect x="212.81" y="166.26" width="0.69" height="0.69" fill="rgb(91,91,91)"/><rect x="218.6" y="157.97" width="1.13" height="1.13" fill="rgb(75,75,75)"/><rect x="205.82" y="157.66" width="1.14" height="1.14" fill="rgb(120,120,120)"/><rect x="213.95" y="155.66" width="1.02" height="1.02" fill="rgb(77,77,77)"/><rect x="204.39" y="160.01" width="1.13" height="1.13" fill="rgb(99,99,99)"/><rect x="207.65" y="159.95" width="0.68" height="0.68" fill="rgb(81,81,81)"/><rect x="209.83" y="161.06" width="0.69" height="0.69" fill="rgb(102,102,102)"/><rect x="205.66" y="161.23" width="1.12" height="1.12" fill="rgb(108,108,108)"/><rect x="220.25" y="161.23" width="0.94" height="0.94" fill="rgb(102,102,102)"/><rect x="207.81" y="156.26" width="0.85" height="0.85" fill="rgb(93,93,93)"/>
<g filter="url(#bl05)">
<path d="M222 165 L231 176" stroke="#5a5a5a" stroke-width="2.2" fill="none"/>
</g>
<rect x="227.43" y="170.13" width="0.98" height="0.98" fill="rgb(173,173,173)"/><rect x="229.19" y="171.27" width="1.16" height="1.16" fill="rgb(178,178,178)"/><rect x="224.82" y="175.27" width="0.89" height="0.89" fill="rgb(161,161,161)"/><rect x="227.02" y="169.89" width="0.98" height="0.98" fill="rgb(181,181,181)"/><rect x="224.78" y="174.83" width="0.88" height="0.88" fill="rgb(146,146,146)"/><rect x="223.47" y="169.73" width="0.86" height="0.86" fill="rgb(131,131,131)"/><rect x="224.2" y="172.42" width="0.78" height="0.78" fill="rgb(192,192,192)"/><rect x="227.54" y="167.41" width="0.76" height="0.76" fill="rgb(160,160,160)"/><rect x="223.05" y="170.28" width="1.08" height="1.08" fill="rgb(175,175,175)"/><rect x="225.54" y="173.21" width="0.95" height="0.95" fill="rgb(139,139,139)"/><rect x="224.45" y="166.85" width="1.03" height="1.03" fill="rgb(114,114,114)"/><rect x="228.45" y="167.83" width="0.78" height="0.78" fill="rgb(114,114,114)"/><rect x="228.02" y="170.59" width="0.97" height="0.97" fill="rgb(202,202,202)"/><rect x="224.8" y="166.41" width="0.97" height="0.97" fill="rgb(200,200,200)"/><rect x="224.44" y="167.59" width="0.96" height="0.96" fill="rgb(179,179,179)"/><rect x="225.82" y="168.2" width="0.87" height="0.87" fill="rgb(176,176,176)"/><rect x="226.59" y="168.75" width="0.62" height="0.62" fill="rgb(128,128,128)"/><rect x="227.01" y="165.3" width="0.82" height="0.82" fill="rgb(175,175,175)"/><rect x="227.87" y="166.12" width="0.75" height="0.75" fill="rgb(166,166,166)"/><rect x="225.77" y="173.88" width="0.86" height="0.86" fill="rgb(141,141,141)"/><rect x="224.37" y="166.37" width="0.94" height="0.94" fill="rgb(115,115,115)"/><rect x="227.67" y="170.96" width="0.95" height="0.95" fill="rgb(191,191,191)"/><rect x="228.54" y="168.7" width="0.83" height="0.83" fill="rgb(111,111,111)"/><rect x="223.66" y="167.59" width="0.89" height="0.89" fill="rgb(208,208,208)"/><rect x="225.55" y="171.42" width="0.73" height="0.73" fill="rgb(174,174,174)"/><rect x="226.75" y="171.06" width="1.01" height="1.01" fill="rgb(110,110,110)"/><rect x="228.98" y="174.24" width="1.12" height="1.12" fill="rgb(118,118,118)"/><rect x="226.82" y="171.03" width="0.75" height="0.75" fill="rgb(181,181,181)"/><rect x="226.34" y="168.13" width="1.06" height="1.06" fill="rgb(115,115,115)"/><rect x="225.77" y="165.55" width="0.65" height="0.65" fill="rgb(182,182,182)"/><rect x="224.46" y="167.15" width="1.16" height="1.16" fill="rgb(156,156,156)"/><rect x="226.41" y="175.9" width="0.61" height="0.61" fill="rgb(181,181,181)"/><rect x="229.31" y="170.91" width="0.65" height="0.65" fill="rgb(191,191,191)"/><rect x="225.38" y="174.86" width="1.12" height="1.12" fill="rgb(126,126,126)"/><rect x="225.65" y="170.62" width="0.94" height="0.94" fill="rgb(146,146,146)"/><rect x="223.83" y="172.2" width="1.08" height="1.08" fill="rgb(124,124,124)"/><rect x="224.66" y="173.84" width="0.85" height="0.85" fill="rgb(172,172,172)"/><rect x="224.16" y="173.71" width="1.07" height="1.07" fill="rgb(204,204,204)"/><rect x="224.77" y="169.29" width="1.18" height="1.18" fill="rgb(116,116,116)"/><rect x="225.58" y="165.71" width="0.96" height="0.96" fill="rgb(143,143,143)"/>
<rect x="232.81" y="185.68" width="0.75" height="0.75" fill="rgb(144,144,144)"/><rect x="229.3" y="187.02" width="0.94" height="0.94" fill="rgb(123,123,123)"/><rect x="229.48" y="184.59" width="0.74" height="0.74" fill="rgb(162,162,162)"/><rect x="232.03" y="186.01" width="0.89" height="0.89" fill="rgb(128,128,128)"/><rect x="231.76" y="183.84" width="1.02" height="1.02" fill="rgb(93,93,93)"/><rect x="231.7" y="183.84" width="0.74" height="0.74" fill="rgb(141,141,141)"/><rect x="232.07" y="184.19" width="1.06" height="1.06" fill="rgb(151,151,151)"/><rect x="230.67" y="186.6" width="1" height="1" fill="rgb(139,139,139)"/><rect x="231.53" y="188.06" width="0.72" height="0.72" fill="rgb(173,173,173)"/><rect x="229.71" y="184.72" width="0.7" height="0.7" fill="rgb(131,131,131)"/><rect x="230.95" y="188.17" width="0.83" height="0.83" fill="rgb(161,161,161)"/><rect x="232.53" y="187.18" width="0.72" height="0.72" fill="rgb(159,159,159)"/>
</g>
<ellipse cx="131.9" cy="170.3" rx="9.3" ry="7.4" fill="none" stroke="#d0d0d0" stroke-width="0.9"/>
<ellipse cx="182.4" cy="170.8" rx="9.8" ry="8.2" fill="none" stroke="#d0d0d0" stroke-width="0.9"/>
<ellipse cx="227.5" cy="171.2" rx="10.1" ry="7.8" fill="none" stroke="#d0d0d0" stroke-width="0.9"/>
<text transform="translate(115 144.54) scale(0.91 1)" font-size="5.93" fill="#111" stroke="#111" stroke-width="0.18">T=0S</text>
<text transform="translate(107 150.83) scale(1.03 1)" font-size="6.11" fill="#111" stroke="#111" stroke-width="0.18">pre-bleach</text>
<text transform="translate(162.1 144.54) scale(0.91 1)" font-size="6.07" fill="#111" stroke="#111" stroke-width="0.18">T=60S</text>
<text transform="translate(152.6 151.04) scale(1.08 1)" font-size="5.99" fill="#111" stroke="#111" stroke-width="0.18">after Bleach</text>
<text transform="translate(207.5 144.84) scale(1.01 1)" font-size="5.79" fill="#111" stroke="#111" stroke-width="0.18">T=1420S</text>
<text transform="translate(206.5 151.21) scale(0.99 1)" font-size="6.7" fill="#111" stroke="#111" stroke-width="0.18">recovery</text>
<text transform="translate(0.2 297.72) scale(0.83 1)" font-size="18.08" font-weight="bold" fill="#000" stroke="#000" stroke-width="0.6">C</text>
<line x1="25.1" y1="308.1" x2="25.1" y2="414.7" stroke="#1e1e1e" stroke-width="1"/>
<line x1="25.1" y1="414.2" x2="251" y2="414.2" stroke="#1e1e1e" stroke-width="1"/>
<line x1="22.8" y1="414.2" x2="25.1" y2="414.2" stroke="#1e1e1e" stroke-width="1"/>
<line x1="22.8" y1="393.04" x2="25.1" y2="393.04" stroke="#1e1e1e" stroke-width="1"/>
<line x1="22.8" y1="371.88" x2="25.1" y2="371.88" stroke="#1e1e1e" stroke-width="1"/>
<line x1="22.8" y1="350.72" x2="25.1" y2="350.72" stroke="#1e1e1e" stroke-width="1"/>
<line x1="22.8" y1="329.56" x2="25.1" y2="329.56" stroke="#1e1e1e" stroke-width="1"/>
<line x1="22.8" y1="308.4" x2="25.1" y2="308.4" stroke="#1e1e1e" stroke-width="1"/>
<text transform="translate(15 418.09) scale(0.83 1)" font-size="11.3" fill="#111" stroke="#111" stroke-width="0.25">0</text>
<text transform="translate(15 396.93) scale(0.82 1)" font-size="11.46" fill="#111" stroke="#111" stroke-width="0.25">5</text>
<text transform="translate(10.3 375.77) scale(0.79 1)" font-size="11.3" fill="#111" stroke="#111" stroke-width="0.25">10</text>
<text transform="translate(10.3 354.61) scale(0.78 1)" font-size="11.46" fill="#111" stroke="#111" stroke-width="0.25">15</text>
<text transform="translate(10.3 333.45) scale(0.79 1)" font-size="11.3" fill="#111" stroke="#111" stroke-width="0.25">20</text>
<text transform="translate(10.3 312.29) scale(0.79 1)" font-size="11.3" fill="#111" stroke="#111" stroke-width="0.25">25</text>
<text transform="translate(8.1 380.2) scale(1.06 1) rotate(-90)" font-size="8.96" fill="#111" stroke="#111" stroke-width="0.2">% of E</text>
<text transform="translate(4.95 353.2) scale(0.93 1) rotate(-90)" font-size="5.48" fill="#111" stroke="#111" stroke-width="0.15">RSP2+</text>
<rect x="28.35" y="307.35" width="13.9" height="7.7" fill="#c3c3c3" stroke="#333" stroke-width="0.9"/>
<rect x="28.35" y="320.25" width="13.9" height="8" fill="#7a7a7a" stroke="#333" stroke-width="0.9"/>
<rect x="28.35" y="333.25" width="13.9" height="7.6" fill="#1e1e1e" stroke="#333" stroke-width="0.9"/>
<text transform="translate(44.9 314.32) scale(0.86 1)" font-size="7.91" fill="#111" stroke="#111" stroke-width="0.2">D<tspan dx="0.95">10ΔRAP<tspan dx="0.95">1</tspan></tspan></text>
<text transform="translate(44.9 327.22) scale(0.88 1)" font-size="7.91" fill="#111" stroke="#111" stroke-width="0.2">D<tspan dx="0.95">10</tspan></text>
<text transform="translate(45 339.72) scale(0.99 1)" font-size="7.63" fill="#111" stroke="#111" stroke-width="0.2">FCR3</text>
<text transform="translate(65.4 337.76) scale(1.16 1)" font-size="4.24" fill="#111" stroke="#111" stroke-width="0.15">CSA</text>
<rect x="30.7" y="406.4" width="6.3" height="7.8" fill="#c3c3c3" stroke="#333" stroke-width="0.8"/>
<rect x="37.8" y="406.9" width="6.4" height="7.3" fill="#7a7a7a" stroke="#333" stroke-width="0.8"/>
<rect x="45" y="406.9" width="6.9" height="7.3" fill="#1e1e1e" stroke="#333" stroke-width="0.8"/>
<rect x="63.4" y="406.4" width="6.3" height="7.8" fill="#c3c3c3" stroke="#333" stroke-width="0.8"/>
<line x1="73.7" y1="351" x2="73.7" y2="345.6" stroke="#222" stroke-width="0.9"/>
<line x1="71.1" y1="345.6" x2="76.3" y2="345.6" stroke="#222" stroke-width="0.9"/>
<rect x="70.5" y="351.4" width="6.4" height="62.8" fill="#7a7a7a" stroke="#333" stroke-width="0.8"/>
<line x1="81.15" y1="332.8" x2="81.15" y2="328.5" stroke="#222" stroke-width="0.9"/>
<line x1="78.55" y1="328.5" x2="83.75" y2="328.5" stroke="#222" stroke-width="0.9"/>
<rect x="77.7" y="333.2" width="6.9" height="81" fill="#1e1e1e" stroke="#333" stroke-width="0.8"/>
<rect x="95.4" y="409.1" width="6.3" height="5.1" fill="#c3c3c3" stroke="#333" stroke-width="0.8"/>
<line x1="105.7" y1="404" x2="105.7" y2="402.5" stroke="#222" stroke-width="0.9"/>
<line x1="103.1" y1="402.5" x2="108.3" y2="402.5" stroke="#222" stroke-width="0.9"/>
<rect x="102.5" y="404.4" width="6.4" height="9.8" fill="#7a7a7a" stroke="#333" stroke-width="0.8"/>
<line x1="113.15" y1="404" x2="113.15" y2="402.5" stroke="#222" stroke-width="0.9"/>
<line x1="110.55" y1="402.5" x2="115.75" y2="402.5" stroke="#222" stroke-width="0.9"/>
<rect x="109.7" y="404.4" width="6.9" height="9.8" fill="#1e1e1e" stroke="#333" stroke-width="0.8"/>
<rect x="127.5" y="405.1" width="6.3" height="9.1" fill="#c3c3c3" stroke="#333" stroke-width="0.8"/>
<line x1="137.8" y1="397.5" x2="137.8" y2="396.4" stroke="#222" stroke-width="0.9"/>
<line x1="135.2" y1="396.4" x2="140.4" y2="396.4" stroke="#222" stroke-width="0.9"/>
<rect x="134.6" y="397.9" width="6.4" height="16.3" fill="#7a7a7a" stroke="#333" stroke-width="0.8"/>
<line x1="145.25" y1="398.1" x2="145.25" y2="393.5" stroke="#222" stroke-width="0.9"/>
<line x1="142.65" y1="393.5" x2="147.85" y2="393.5" stroke="#222" stroke-width="0.9"/>
<rect x="141.8" y="398.5" width="6.9" height="15.7" fill="#1e1e1e" stroke="#333" stroke-width="0.8"/>
<rect x="160.5" y="399.3" width="6.3" height="14.9" fill="#c3c3c3" stroke="#333" stroke-width="0.8"/>
<line x1="170.8" y1="350.3" x2="170.8" y2="345.1" stroke="#222" stroke-width="0.9"/>
<line x1="168.2" y1="345.1" x2="173.4" y2="345.1" stroke="#222" stroke-width="0.9"/>
<rect x="167.6" y="350.7" width="6.4" height="63.5" fill="#7a7a7a" stroke="#333" stroke-width="0.8"/>
<line x1="178.25" y1="338" x2="178.25" y2="324.3" stroke="#222" stroke-width="0.9"/>
<line x1="175.65" y1="324.3" x2="180.85" y2="324.3" stroke="#222" stroke-width="0.9"/>
<rect x="174.8" y="338.4" width="6.9" height="75.8" fill="#1e1e1e" stroke="#333" stroke-width="0.8"/>
<line x1="195.75" y1="394.2" x2="195.75" y2="392.6" stroke="#222" stroke-width="0.9"/>
<line x1="193.15" y1="392.6" x2="198.35" y2="392.6" stroke="#222" stroke-width="0.9"/>
<rect x="192.6" y="394.6" width="6.3" height="19.6" fill="#c3c3c3" stroke="#333" stroke-width="0.8"/>
<line x1="202.9" y1="369.8" x2="202.9" y2="366" stroke="#222" stroke-width="0.9"/>
<line x1="200.3" y1="366" x2="205.5" y2="366" stroke="#222" stroke-width="0.9"/>
<rect x="199.7" y="370.2" width="6.4" height="44" fill="#7a7a7a" stroke="#333" stroke-width="0.8"/>
<line x1="210.35" y1="333.8" x2="210.35" y2="324.9" stroke="#222" stroke-width="0.9"/>
<line x1="207.75" y1="324.9" x2="212.95" y2="324.9" stroke="#222" stroke-width="0.9"/>
<rect x="206.9" y="334.2" width="6.9" height="80" fill="#1e1e1e" stroke="#333" stroke-width="0.8"/>
<rect x="224.8" y="397.2" width="6.3" height="17" fill="#c3c3c3" stroke="#333" stroke-width="0.8"/>
<line x1="235.1" y1="363.2" x2="235.1" y2="359" stroke="#222" stroke-width="0.9"/>
<line x1="232.5" y1="359" x2="237.7" y2="359" stroke="#222" stroke-width="0.9"/>
<rect x="231.9" y="363.6" width="6.4" height="50.6" fill="#7a7a7a" stroke="#333" stroke-width="0.8"/>
<line x1="242.55" y1="326" x2="242.55" y2="320.2" stroke="#222" stroke-width="0.9"/>
<line x1="239.95" y1="320.2" x2="245.15" y2="320.2" stroke="#222" stroke-width="0.9"/>
<rect x="239.1" y="326.4" width="6.9" height="87.8" fill="#1e1e1e" stroke="#333" stroke-width="0.8"/>
<text transform="translate(32.7 427.32) scale(1.01 1)" font-size="8.06" fill="#111" stroke="#111" stroke-width="0.25">IgG2a</text>
<text transform="translate(71.9 427.3) scale(0.95 1)" font-size="8.14" fill="#111" stroke="#111" stroke-width="0.25">B4</text>
<text transform="translate(95.4 427.22) scale(1.05 1)" font-size="7.91" fill="#111" stroke="#111" stroke-width="0.25">Serum<tspan dx="1.03">1</tspan></text>
<text transform="translate(126.9 427.22) scale(1.01 1)" font-size="7.91" fill="#111" stroke="#111" stroke-width="0.25">Serum2</text>
<text transform="translate(157.9 427.22) scale(1.04 1)" font-size="7.91" fill="#111" stroke="#111" stroke-width="0.25">Serum3</text>
<text transform="translate(191.4 427.22) scale(1 1)" font-size="7.91" fill="#111" stroke="#111" stroke-width="0.25">Serum4</text>
<text transform="translate(228.2 427.22) scale(0.99 1)" font-size="7.91" fill="#111" stroke="#111" stroke-width="0.25">PIAG</text>
<text transform="translate(268.8 53.6) scale(0.82 1)" font-size="18.31" font-weight="bold" fill="#000" stroke="#000" stroke-width="0.6">D</text>
<line x1="297.7" y1="63.4" x2="297.7" y2="226.4" stroke="#1e1e1e" stroke-width="1"/>
<line x1="297.7" y1="225.9" x2="518.5" y2="225.9" stroke="#1e1e1e" stroke-width="1"/>
<line x1="295.4" y1="225.9" x2="297.7" y2="225.9" stroke="#1e1e1e" stroke-width="1"/>
<text transform="translate(286.5 228.82) scale(0.93 1)" font-size="8.47" fill="#111" stroke="#111" stroke-width="0.25">0</text>
<line x1="295.4" y1="193.4" x2="297.7" y2="193.4" stroke="#1e1e1e" stroke-width="1"/>
<text transform="translate(282.9 196.32) scale(0.85 1)" font-size="8.47" fill="#111" stroke="#111" stroke-width="0.25">50</text>
<line x1="295.4" y1="160.9" x2="297.7" y2="160.9" stroke="#1e1e1e" stroke-width="1"/>
<text transform="translate(279 163.82) scale(0.84 1)" font-size="8.47" fill="#111" stroke="#111" stroke-width="0.25">100</text>
<line x1="295.4" y1="128.4" x2="297.7" y2="128.4" stroke="#1e1e1e" stroke-width="1"/>
<text transform="translate(279 131.32) scale(0.84 1)" font-size="8.47" fill="#111" stroke="#111" stroke-width="0.25">150</text>
<line x1="295.4" y1="95.9" x2="297.7" y2="95.9" stroke="#1e1e1e" stroke-width="1"/>
<text transform="translate(279 98.82) scale(0.84 1)" font-size="8.47" fill="#111" stroke="#111" stroke-width="0.25">200</text>
<line x1="295.4" y1="63.4" x2="297.7" y2="63.4" stroke="#1e1e1e" stroke-width="1"/>
<text transform="translate(279 66.32) scale(0.84 1)" font-size="8.47" fill="#111" stroke="#111" stroke-width="0.25">250</text>
<text transform="translate(275.17 178.6) scale(0.98 1) rotate(-90)" font-size="9.01" fill="#111" stroke="#111" stroke-width="0.15">Phagocytic Index</text>
<rect x="319.65" y="75.45" width="14.4" height="9.7" fill="#8a8a8a" stroke="#333" stroke-width="0.9"/>
<rect x="319.65" y="96.05" width="14.4" height="10.1" fill="#1c1c1c" stroke="#222" stroke-width="0.9"/>
<text transform="translate(337.4 81.52) scale(1.09 1)" font-size="8.17" fill="#111" stroke="#111" stroke-width="0.25">uE</text>
<text transform="translate(338.1 101.2) scale(1.03 1)" font-size="8.72" fill="#111" stroke="#111" stroke-width="0.25">IE</text>
<line x1="314.15" y1="212.5" x2="314.15" y2="209.2" stroke="#222" stroke-width="0.9"/>
<line x1="313.35" y1="209.2" x2="314.95" y2="209.2" stroke="#222" stroke-width="0.9"/>
<rect x="308.25" y="212.95" width="11.8" height="12.95" fill="#8a8a8a" stroke="#333" stroke-width="0.9"/>
<rect x="308.25" y="222.05" width="11.8" height="3.85" fill="#1c1c1c" stroke="#222" stroke-width="0.9"/>
<line x1="345.85" y1="175.3" x2="345.85" y2="174.5" stroke="#222" stroke-width="0.9"/>
<line x1="345.05" y1="174.5" x2="346.65" y2="174.5" stroke="#222" stroke-width="0.9"/>
<rect x="339.95" y="175.75" width="11.8" height="50.15" fill="#8a8a8a" stroke="#333" stroke-width="0.9"/>
<rect x="339.95" y="220.25" width="11.8" height="5.65" fill="#1c1c1c" stroke="#222" stroke-width="0.9"/>
<line x1="377.5" y1="217.7" x2="377.5" y2="215.5" stroke="#222" stroke-width="0.9"/>
<line x1="376.7" y1="215.5" x2="378.3" y2="215.5" stroke="#222" stroke-width="0.9"/>
<rect x="371.45" y="218.15" width="12.1" height="7.75" fill="#8a8a8a" stroke="#333" stroke-width="0.9"/>
<rect x="371.45" y="223.65" width="12.1" height="2.25" fill="#1c1c1c" stroke="#222" stroke-width="0.9"/>
<line x1="409.2" y1="212.2" x2="409.2" y2="207.8" stroke="#222" stroke-width="0.9"/>
<line x1="408.4" y1="207.8" x2="410" y2="207.8" stroke="#222" stroke-width="0.9"/>
<rect x="403.45" y="212.65" width="11.5" height="13.25" fill="#8a8a8a" stroke="#333" stroke-width="0.9"/>
<rect x="403.45" y="222.15" width="11.5" height="3.75" fill="#1c1c1c" stroke="#222" stroke-width="0.9"/>
<line x1="440.9" y1="110" x2="440.9" y2="100" stroke="#222" stroke-width="0.9"/>
<line x1="440.1" y1="100" x2="441.7" y2="100" stroke="#222" stroke-width="0.9"/>
<rect x="434.75" y="110.45" width="12.3" height="115.45" fill="#8a8a8a" stroke="#333" stroke-width="0.9"/>
<line x1="440.9" y1="210.9" x2="440.9" y2="207.8" stroke="#222" stroke-width="0.9"/>
<line x1="440.1" y1="207.8" x2="441.7" y2="207.8" stroke="#222" stroke-width="0.9"/>
<rect x="434.75" y="211.35" width="12.3" height="14.55" fill="#1c1c1c" stroke="#222" stroke-width="0.9"/>
<line x1="472.7" y1="105.7" x2="472.7" y2="84.5" stroke="#222" stroke-width="0.9"/>
<line x1="471.9" y1="84.5" x2="473.5" y2="84.5" stroke="#222" stroke-width="0.9"/>
<rect x="466.65" y="106.15" width="12.1" height="119.75" fill="#8a8a8a" stroke="#333" stroke-width="0.9"/>
<line x1="472.7" y1="211.5" x2="472.7" y2="206" stroke="#222" stroke-width="0.9"/>
<line x1="471.9" y1="206" x2="473.5" y2="206" stroke="#222" stroke-width="0.9"/>
<rect x="466.65" y="211.95" width="12.1" height="13.95" fill="#1c1c1c" stroke="#222" stroke-width="0.9"/>
<line x1="504.55" y1="121.2" x2="504.55" y2="114.5" stroke="#222" stroke-width="0.9"/>
<line x1="503.75" y1="114.5" x2="505.35" y2="114.5" stroke="#222" stroke-width="0.9"/>
<rect x="498.75" y="121.65" width="11.6" height="104.25" fill="#8a8a8a" stroke="#333" stroke-width="0.9"/>
<line x1="504.55" y1="216.2" x2="504.55" y2="213" stroke="#222" stroke-width="0.9"/>
<line x1="503.75" y1="213" x2="505.35" y2="213" stroke="#222" stroke-width="0.9"/>
<rect x="498.75" y="216.65" width="11.6" height="9.25" fill="#1c1c1c" stroke="#222" stroke-width="0.9"/>
<text transform="translate(302.8 235.5) scale(0.91 1)" font-size="8.17" fill="#111" stroke="#111" stroke-width="0.2">IgG2a</text>
<text transform="translate(341.1 235.5) scale(1 1)" font-size="8.28" fill="#111" stroke="#111" stroke-width="0.2">B4</text>
<text transform="translate(365.1 235.42) scale(1 1)" font-size="8.05" fill="#111" stroke="#111" stroke-width="0.2">Serum<tspan dx="1.05">1</tspan></text>
<text transform="translate(396.5 235.42) scale(0.96 1)" font-size="8.05" fill="#111" stroke="#111" stroke-width="0.2">Serum2</text>
<text transform="translate(428.7 235.42) scale(0.98 1)" font-size="8.05" fill="#111" stroke="#111" stroke-width="0.2">Serum3</text>
<text transform="translate(459.5 235.42) scale(0.99 1)" font-size="8.05" fill="#111" stroke="#111" stroke-width="0.2">Serum4</text>
<text transform="translate(497 235.42) scale(0.91 1)" font-size="8.05" fill="#111" stroke="#111" stroke-width="0.2">PIAG</text>
<text transform="translate(268.3 267.5) scale(0.8 1)" font-size="18.46" font-weight="bold" fill="#000" stroke="#000" stroke-width="0.6">E</text>
<line x1="298.5" y1="279.8" x2="298.5" y2="375.1" stroke="#888" stroke-width="0.6"/>
<line x1="281.6" y1="351.2" x2="345.9" y2="351.2" stroke="#888" stroke-width="0.6"/>
<path fill="#b8b8b8" d="M282 297h1v1h-1zM302 297h2v1h-2zM340 297h1v1h-1zM294 298h1v1h-1zM302 298h1v1h-1zM314 298h1v1h-1zM332 298h2v1h-2zM288 299h1v1h-1zM313 299h1v1h-1zM326 299h1v1h-1zM330 299h1v1h-1zM335 299h1v1h-1zM343 299h1v1h-1zM289 300h1v1h-1zM296 300h1v1h-1zM301 300h1v1h-1zM316 300h1v1h-1zM322 300h1v1h-1zM326 300h1v1h-1zM329 300h1v1h-1zM294 301h1v1h-1zM303 301h1v1h-1zM308 301h1v1h-1zM322 301h1v1h-1zM329 301h1v1h-1zM300 302h1v1h-1zM303 302h1v1h-1zM327 302h1v1h-1zM341 302h1v1h-1zM294 303h1v1h-1zM296 303h1v1h-1zM298 303h1v1h-1zM300 303h1v1h-1zM302 303h1v1h-1zM310 303h1v1h-1zM329 303h1v1h-1zM342 303h1v1h-1zM297 304h1v1h-1zM310 304h1v1h-1zM313 304h1v1h-1zM328 304h1v1h-1zM335 304h1v1h-1zM340 304h1v1h-1zM343 304h2v1h-2zM284 305h2v1h-2zM292 305h1v1h-1zM310 305h1v1h-1zM317 305h1v1h-1zM331 305h1v1h-1zM333 306h2v1h-2zM336 306h1v1h-1zM285 307h1v1h-1zM309 307h2v1h-2zM314 307h1v1h-1zM330 307h1v1h-1zM333 307h1v1h-1zM339 307h1v1h-1zM344 307h1v1h-1zM318 308h1v1h-1zM322 308h1v1h-1zM326 308h1v1h-1zM332 308h1v1h-1zM283 309h1v1h-1zM294 309h1v1h-1zM296 309h1v1h-1zM299 309h1v1h-1zM316 309h1v1h-1zM296 310h1v1h-1zM306 310h1v1h-1zM319 310h1v1h-1zM343 310h1v1h-1zM286 311h1v1h-1zM296 311h1v1h-1zM322 311h1v1h-1zM325 311h1v1h-1zM327 311h1v1h-1zM282 312h1v1h-1zM305 312h1v1h-1zM333 312h1v1h-1zM339 312h1v1h-1zM297 313h1v1h-1zM299 313h1v1h-1zM302 313h1v1h-1zM308 314h1v1h-1zM335 314h1v1h-1zM337 314h1v1h-1zM283 315h1v1h-1zM298 315h1v1h-1zM302 315h1v1h-1zM312 315h1v1h-1zM314 315h1v1h-1zM319 315h1v1h-1zM338 315h1v1h-1zM340 315h1v1h-1zM289 316h1v1h-1zM294 316h1v1h-1zM300 316h1v1h-1zM304 316h1v1h-1zM311 316h1v1h-1zM341 316h1v1h-1zM345 316h1v1h-1zM293 317h1v1h-1zM312 317h2v1h-2zM324 317h1v1h-1zM335 317h1v1h-1zM289 318h1v1h-1zM300 318h1v1h-1zM306 318h2v1h-2zM313 318h1v1h-1zM316 318h1v1h-1zM344 318h1v1h-1zM309 319h1v1h-1zM325 319h1v1h-1zM329 319h1v1h-1zM337 319h1v1h-1zM287 320h1v1h-1zM289 320h1v1h-1zM314 320h1v1h-1zM337 320h1v1h-1zM289 321h1v1h-1zM308 321h1v1h-1zM320 321h1v1h-1zM329 321h1v1h-1zM337 321h1v1h-1zM287 322h1v1h-1zM297 322h1v1h-1zM326 322h1v1h-1zM328 322h1v1h-1zM335 322h1v1h-1zM338 322h1v1h-1zM302 323h1v1h-1zM317 323h1v1h-1zM325 323h1v1h-1zM344 323h1v1h-1zM287 324h1v1h-1zM300 324h1v1h-1zM311 324h1v1h-1zM314 324h1v1h-1zM327 324h1v1h-1zM317 325h1v1h-1zM319 325h1v1h-1zM333 325h1v1h-1zM341 325h1v1h-1zM311 326h1v1h-1zM315 326h1v1h-1zM320 326h1v1h-1zM322 326h1v1h-1zM340 326h1v1h-1zM345 326h1v1h-1zM283 327h1v1h-1zM303 327h1v1h-1zM305 327h1v1h-1zM316 327h1v1h-1zM320 327h1v1h-1zM327 327h1v1h-1zM332 327h1v1h-1zM338 327h1v1h-1zM303 328h1v1h-1zM305 328h1v1h-1zM326 328h1v1h-1zM302 329h2v1h-2zM312 329h1v1h-1zM329 329h1v1h-1zM338 329h1v1h-1zM342 329h1v1h-1zM283 330h1v1h-1zM291 330h1v1h-1zM293 330h1v1h-1zM297 330h1v1h-1zM304 330h1v1h-1zM308 330h1v1h-1zM312 330h1v1h-1zM316 330h1v1h-1zM326 330h1v1h-1zM329 330h1v1h-1zM292 331h1v1h-1zM308 331h1v1h-1zM310 331h1v1h-1zM321 331h1v1h-1zM325 331h2v1h-2zM329 331h1v1h-1zM332 331h1v1h-1zM341 331h1v1h-1zM287 332h1v1h-1zM291 332h1v1h-1zM296 332h1v1h-1zM298 332h1v1h-1zM309 332h1v1h-1zM319 332h1v1h-1zM331 332h1v1h-1zM292 333h4v1h-4zM297 333h1v1h-1zM308 333h1v1h-1zM318 333h1v1h-1zM321 333h1v1h-1zM328 333h1v1h-1zM333 333h2v1h-2zM340 333h1v1h-1zM283 334h1v1h-1zM292 334h1v1h-1zM296 334h1v1h-1zM301 334h1v1h-1zM305 334h1v1h-1zM308 334h1v1h-1zM320 334h1v1h-1zM342 334h2v1h-2zM289 335h1v1h-1zM304 335h1v1h-1zM309 335h1v1h-1zM326 335h1v1h-1zM331 335h1v1h-1zM333 335h1v1h-1zM283 336h1v1h-1zM306 336h1v1h-1zM313 336h1v1h-1zM316 336h1v1h-1zM320 336h2v1h-2zM324 336h1v1h-1zM299 337h1v1h-1zM309 337h2v1h-2zM317 337h1v1h-1zM323 337h1v1h-1zM328 337h1v1h-1zM339 337h1v1h-1zM300 338h1v1h-1zM313 338h1v1h-1zM319 338h1v1h-1zM324 338h1v1h-1zM341 338h2v1h-2zM301 339h1v1h-1zM317 339h1v1h-1zM323 339h3v1h-3zM328 339h1v1h-1zM334 339h1v1h-1zM344 339h1v1h-1zM323 340h1v1h-1zM329 340h1v1h-1zM332 340h2v1h-2zM301 341h2v1h-2zM305 341h1v1h-1zM310 341h1v1h-1zM313 341h1v1h-1zM328 341h1v1h-1zM338 341h1v1h-1zM307 342h1v1h-1zM310 342h1v1h-1zM321 342h1v1h-1zM323 342h1v1h-1zM327 342h1v1h-1zM330 342h1v1h-1zM337 342h1v1h-1zM301 343h1v1h-1zM307 343h2v1h-2zM310 343h1v1h-1zM316 343h1v1h-1zM326 343h1v1h-1zM332 343h1v1h-1zM343 343h1v1h-1zM299 344h1v1h-1zM314 344h1v1h-1zM320 344h1v1h-1zM338 344h1v1h-1zM345 344h1v1h-1zM311 345h3v1h-3zM317 345h1v1h-1zM323 345h1v1h-1zM328 345h1v1h-1zM337 345h1v1h-1zM294 346h1v1h-1zM303 346h1v1h-1zM329 346h1v1h-1zM337 346h1v1h-1zM343 346h1v1h-1zM294 347h1v1h-1zM312 347h1v1h-1zM314 347h1v1h-1zM294 348h1v1h-1zM298 348h1v1h-1zM305 348h1v1h-1zM312 348h1v1h-1zM331 348h1v1h-1zM335 348h1v1h-1zM339 348h1v1h-1zM295 349h1v1h-1zM304 349h2v1h-2zM308 349h1v1h-1zM312 349h1v1h-1zM323 349h1v1h-1zM325 349h1v1h-1zM330 349h1v1h-1zM336 349h1v1h-1zM293 350h1v1h-1zM295 350h1v1h-1zM311 350h1v1h-1zM317 350h1v1h-1zM325 350h1v1h-1zM333 350h1v1h-1zM282 351h1v1h-1zM322 351h1v1h-1zM324 351h1v1h-1zM331 351h1v1h-1zM337 351h1v1h-1zM291 352h2v1h-2zM296 352h1v1h-1zM310 352h1v1h-1zM312 352h1v1h-1zM316 352h1v1h-1zM329 352h1v1h-1zM313 353h1v1h-1zM317 353h1v1h-1zM320 353h1v1h-1zM332 353h1v1h-1zM336 353h1v1h-1zM313 354h1v1h-1zM333 354h1v1h-1zM339 354h1v1h-1zM282 355h1v1h-1zM309 355h1v1h-1zM317 355h1v1h-1zM336 355h1v1h-1zM345 355h1v1h-1zM334 356h1v1h-1zM336 356h1v1h-1zM291 357h1v1h-1zM306 357h1v1h-1zM310 357h1v1h-1zM324 357h1v1h-1zM331 357h1v1h-1zM335 357h1v1h-1zM342 357h1v1h-1zM326 358h1v1h-1zM289 359h1v1h-1zM331 359h1v1h-1zM339 359h1v1h-1zM343 359h1v1h-1zM318 360h1v1h-1zM322 360h1v1h-1zM326 360h1v1h-1zM322 361h1v1h-1zM329 361h1v1h-1zM333 361h1v1h-1zM343 361h1v1h-1zM321 362h1v1h-1zM328 362h1v1h-1zM336 362h1v1h-1zM345 362h1v1h-1zM323 363h1v1h-1zM326 363h1v1h-1zM318 364h1v1h-1zM335 364h1v1h-1zM298 365h1v1h-1zM327 365h1v1h-1zM339 365h1v1h-1zM311 366h1v1h-1zM327 366h1v1h-1zM335 367h1v1h-1zM342 367h1v1h-1zM306 368h1v1h-1zM324 368h1v1h-1zM337 368h1v1h-1zM342 368h1v1h-1zM318 369h1v1h-1zM321 369h1v1h-1zM337 369h1v1h-1zM319 370h1v1h-1zM321 370h1v1h-1zM340 370h1v1h-1zM310 371h1v1h-1zM322 371h1v1h-1zM333 371h1v1h-1zM302 372h1v1h-1zM306 372h1v1h-1zM322 372h1v1h-1zM319 373h1v1h-1zM330 373h1v1h-1zM336 373h1v1h-1zM344 373h1v1h-1zM311 374h1v1h-1zM331 374h1v1h-1zM344 374h1v1h-1z"/>
<path fill="#2a2a2a" d="M292 301h1v1h-1zM295 304h1v1h-1zM301 304h1v1h-1zM284 306h1v1h-1zM299 307h1v1h-1zM299 308h1v1h-1zM291 309h1v1h-1zM285 310h2v1h-2zM289 310h1v1h-1zM301 310h1v1h-1zM304 310h1v1h-1zM284 311h1v1h-1zM288 311h1v1h-1zM291 311h2v1h-2zM294 311h2v1h-2zM298 311h2v1h-2zM309 311h1v1h-1zM314 311h1v1h-1zM293 312h1v1h-1zM298 312h1v1h-1zM301 312h1v1h-1zM315 312h1v1h-1zM290 313h1v1h-1zM292 313h1v1h-1zM301 313h1v1h-1zM306 313h1v1h-1zM284 314h1v1h-1zM291 314h2v1h-2zM298 314h1v1h-1zM303 314h1v1h-1zM306 314h1v1h-1zM282 315h1v1h-1zM291 315h1v1h-1zM296 315h2v1h-2zM299 315h1v1h-1zM320 315h1v1h-1zM282 316h1v1h-1zM287 316h1v1h-1zM302 316h1v1h-1zM282 317h2v1h-2zM286 317h1v1h-1zM292 317h1v1h-1zM294 317h1v1h-1zM296 317h1v1h-1zM299 317h1v1h-1zM301 317h2v1h-2zM304 317h4v1h-4zM315 317h1v1h-1zM318 317h1v1h-1zM284 318h2v1h-2zM287 318h2v1h-2zM290 318h2v1h-2zM293 318h5v1h-5zM299 318h1v1h-1zM304 318h2v1h-2zM314 318h1v1h-1zM284 319h2v1h-2zM287 319h1v1h-1zM289 319h3v1h-3zM294 319h1v1h-1zM296 319h2v1h-2zM301 319h1v1h-1zM305 319h2v1h-2zM310 319h1v1h-1zM319 319h1v1h-1zM282 320h2v1h-2zM286 320h1v1h-1zM293 320h4v1h-4zM302 320h1v1h-1zM324 320h1v1h-1zM282 321h4v1h-4zM288 321h1v1h-1zM290 321h2v1h-2zM293 321h1v1h-1zM296 321h4v1h-4zM316 321h1v1h-1zM326 321h1v1h-1zM283 322h1v1h-1zM289 322h2v1h-2zM292 322h4v1h-4zM298 322h1v1h-1zM300 322h7v1h-7zM313 322h1v1h-1zM282 323h2v1h-2zM285 323h2v1h-2zM288 323h2v1h-2zM291 323h7v1h-7zM304 323h1v1h-1zM323 323h1v1h-1zM282 324h2v1h-2zM286 324h1v1h-1zM289 324h1v1h-1zM293 324h2v1h-2zM296 324h1v1h-1zM299 324h1v1h-1zM301 324h1v1h-1zM303 324h1v1h-1zM305 324h2v1h-2zM308 324h1v1h-1zM313 324h1v1h-1zM283 325h5v1h-5zM289 325h3v1h-3zM297 325h1v1h-1zM299 325h1v1h-1zM303 325h2v1h-2zM309 325h1v1h-1zM283 326h1v1h-1zM287 326h1v1h-1zM290 326h2v1h-2zM295 326h3v1h-3zM299 326h1v1h-1zM301 326h2v1h-2zM304 326h1v1h-1zM317 326h1v1h-1zM288 327h4v1h-4zM293 327h9v1h-9zM312 327h1v1h-1zM282 328h1v1h-1zM285 328h3v1h-3zM289 328h2v1h-2zM293 328h3v1h-3zM298 328h1v1h-1zM307 328h1v1h-1zM282 329h1v1h-1zM285 329h2v1h-2zM290 329h1v1h-1zM292 329h1v1h-1zM294 329h1v1h-1zM296 329h6v1h-6zM305 329h2v1h-2zM309 329h1v1h-1zM313 329h1v1h-1zM284 330h1v1h-1zM286 330h1v1h-1zM288 330h2v1h-2zM292 330h1v1h-1zM294 330h1v1h-1zM298 330h4v1h-4zM305 330h2v1h-2zM283 331h2v1h-2zM286 331h2v1h-2zM290 331h2v1h-2zM296 331h2v1h-2zM299 331h4v1h-4zM305 331h1v1h-1zM307 331h1v1h-1zM282 332h1v1h-1zM285 332h2v1h-2zM288 332h1v1h-1zM292 332h1v1h-1zM299 332h3v1h-3zM304 332h1v1h-1zM307 332h2v1h-2zM288 333h1v1h-1zM291 333h1v1h-1zM298 333h3v1h-3zM312 333h1v1h-1zM314 333h1v1h-1zM284 334h1v1h-1zM286 334h1v1h-1zM293 334h1v1h-1zM297 334h4v1h-4zM303 334h2v1h-2zM306 334h2v1h-2zM314 334h1v1h-1zM297 335h1v1h-1zM299 335h1v1h-1zM301 335h3v1h-3zM294 336h1v1h-1zM296 336h1v1h-1zM298 336h1v1h-1zM300 336h1v1h-1zM314 336h1v1h-1zM296 337h1v1h-1zM298 337h1v1h-1zM300 337h1v1h-1zM303 337h3v1h-3zM301 338h1v1h-1zM303 338h1v1h-1zM317 338h1v1h-1zM300 339h1v1h-1zM303 339h1v1h-1zM305 339h2v1h-2zM312 339h1v1h-1zM300 340h1v1h-1zM304 340h1v1h-1zM309 340h1v1h-1zM315 340h1v1h-1zM299 341h1v1h-1zM303 341h1v1h-1zM311 341h1v1h-1zM297 342h1v1h-1zM303 342h2v1h-2zM313 342h1v1h-1zM302 343h1v1h-1zM302 344h1v1h-1zM306 344h1v1h-1zM300 345h1v1h-1zM309 345h1v1h-1zM297 346h3v1h-3zM305 346h1v1h-1zM315 346h1v1h-1zM289 347h1v1h-1zM300 347h2v1h-2zM303 347h1v1h-1zM299 348h1v1h-1zM301 348h2v1h-2zM311 348h1v1h-1zM316 348h1v1h-1zM287 349h1v1h-1zM294 349h1v1h-1zM296 349h1v1h-1zM303 349h1v1h-1zM311 349h1v1h-1zM315 349h1v1h-1zM321 349h1v1h-1zM282 350h1v1h-1zM285 350h1v1h-1zM294 350h1v1h-1zM297 350h1v1h-1zM299 350h1v1h-1zM302 350h1v1h-1zM304 350h1v1h-1zM307 350h1v1h-1zM309 350h1v1h-1zM313 350h1v1h-1zM315 350h2v1h-2zM286 351h1v1h-1zM297 351h2v1h-2zM304 351h2v1h-2zM307 351h1v1h-1zM310 351h1v1h-1zM314 351h1v1h-1zM316 351h1v1h-1zM327 351h1v1h-1zM302 352h1v1h-1zM307 352h3v1h-3zM315 352h1v1h-1zM318 352h2v1h-2zM307 353h1v1h-1zM311 353h1v1h-1zM321 353h1v1h-1zM309 354h2v1h-2zM317 354h1v1h-1zM319 354h2v1h-2zM310 355h2v1h-2zM315 355h2v1h-2zM318 355h4v1h-4zM310 356h1v1h-1zM313 356h2v1h-2zM316 356h1v1h-1zM318 356h1v1h-1zM321 356h1v1h-1zM312 357h1v1h-1zM314 357h1v1h-1zM318 357h1v1h-1zM310 358h1v1h-1zM314 358h1v1h-1zM321 358h2v1h-2zM311 359h1v1h-1zM313 359h1v1h-1zM315 359h1v1h-1zM317 359h1v1h-1zM320 359h2v1h-2zM325 359h1v1h-1zM309 360h1v1h-1zM314 360h4v1h-4zM321 360h1v1h-1zM310 361h1v1h-1zM312 361h1v1h-1zM315 361h4v1h-4zM320 361h2v1h-2zM312 362h5v1h-5zM318 362h3v1h-3zM325 362h1v1h-1zM313 363h3v1h-3zM324 363h1v1h-1zM314 364h1v1h-1zM316 364h1v1h-1zM309 365h2v1h-2zM313 365h1v1h-1zM315 365h2v1h-2zM318 365h1v1h-1zM320 365h1v1h-1zM324 365h1v1h-1zM306 366h1v1h-1zM314 366h1v1h-1zM316 366h1v1h-1zM322 366h1v1h-1zM312 367h1v1h-1zM315 367h1v1h-1zM317 367h3v1h-3zM321 367h1v1h-1zM324 367h1v1h-1zM315 368h4v1h-4zM322 368h1v1h-1zM330 368h1v1h-1zM311 369h2v1h-2zM314 369h1v1h-1zM316 369h2v1h-2zM320 369h1v1h-1zM324 369h1v1h-1zM313 370h1v1h-1zM315 370h1v1h-1zM318 370h1v1h-1zM312 371h1v1h-1zM314 371h1v1h-1zM316 371h1v1h-1zM318 371h1v1h-1zM321 371h1v1h-1zM310 372h1v1h-1zM313 372h1v1h-1zM317 372h1v1h-1zM319 372h1v1h-1zM315 373h2v1h-2zM322 373h1v1h-1zM314 374h1v1h-1z"/>
<path fill="#0c0c0c" d="M284 332h1v1h-1zM283 333h1v1h-1zM285 334h1v1h-1zM295 334h1v1h-1zM283 335h1v1h-1zM292 335h1v1h-1zM295 335h1v1h-1zM300 335h1v1h-1zM282 336h1v1h-1zM284 336h8v1h-8zM293 336h1v1h-1zM297 336h1v1h-1zM282 337h11v1h-11zM294 337h2v1h-2zM297 337h1v1h-1zM282 338h17v1h-17zM282 339h4v1h-4zM287 339h13v1h-13zM302 339h1v1h-1zM282 340h18v1h-18zM301 340h3v1h-3zM282 341h17v1h-17zM300 341h1v1h-1zM282 342h15v1h-15zM298 342h1v1h-1zM300 342h1v1h-1zM302 342h1v1h-1zM282 343h18v1h-18zM282 344h16v1h-16zM282 345h14v1h-14zM299 345h1v1h-1zM301 345h2v1h-2zM305 345h1v1h-1zM283 346h1v1h-1zM285 346h3v1h-3zM289 346h5v1h-5zM295 346h2v1h-2zM300 346h1v1h-1zM282 347h6v1h-6zM290 347h4v1h-4zM297 347h1v1h-1zM299 347h1v1h-1zM283 348h4v1h-4zM290 348h1v1h-1zM282 349h1v1h-1zM284 349h2v1h-2zM302 349h1v1h-1zM284 350h1v1h-1zM286 350h1v1h-1zM289 350h1v1h-1zM291 350h1v1h-1zM305 350h1v1h-1zM284 351h1v1h-1zM287 351h2v1h-2zM290 351h6v1h-6zM299 351h1v1h-1zM302 351h1v1h-1zM283 352h6v1h-6zM293 352h1v1h-1zM295 352h1v1h-1zM297 352h2v1h-2zM300 352h2v1h-2zM303 352h1v1h-1zM311 352h1v1h-1zM282 353h4v1h-4zM287 353h1v1h-1zM289 353h2v1h-2zM292 353h2v1h-2zM295 353h3v1h-3zM300 353h1v1h-1zM302 353h1v1h-1zM304 353h2v1h-2zM308 353h1v1h-1zM282 354h1v1h-1zM284 354h23v1h-23zM283 355h22v1h-22zM306 355h1v1h-1zM312 355h1v1h-1zM314 355h1v1h-1zM282 356h24v1h-24zM308 356h2v1h-2zM319 356h1v1h-1zM282 357h6v1h-6zM289 357h2v1h-2zM293 357h8v1h-8zM302 357h4v1h-4zM307 357h1v1h-1zM309 357h1v1h-1zM313 357h1v1h-1zM315 357h1v1h-1zM282 358h26v1h-26zM309 358h1v1h-1zM311 358h1v1h-1zM315 358h3v1h-3zM282 359h7v1h-7zM290 359h14v1h-14zM305 359h2v1h-2zM308 359h3v1h-3zM312 359h1v1h-1zM316 359h1v1h-1zM318 359h1v1h-1zM322 359h1v1h-1zM282 360h23v1h-23zM306 360h3v1h-3zM310 360h3v1h-3zM282 361h28v1h-28zM311 361h1v1h-1zM314 361h1v1h-1zM282 362h30v1h-30zM317 362h1v1h-1zM322 362h1v1h-1zM282 363h27v1h-27zM310 363h3v1h-3zM317 363h1v1h-1zM282 364h32v1h-32zM317 364h1v1h-1zM282 365h5v1h-5zM288 365h10v1h-10zM299 365h8v1h-8zM308 365h1v1h-1zM311 365h2v1h-2zM319 365h1v1h-1zM282 366h24v1h-24zM307 366h4v1h-4zM313 366h1v1h-1zM315 366h1v1h-1zM282 367h26v1h-26zM309 367h3v1h-3zM316 367h1v1h-1zM322 367h1v1h-1zM282 368h24v1h-24zM308 368h2v1h-2zM311 368h2v1h-2zM320 368h1v1h-1zM282 369h25v1h-25zM308 369h1v1h-1zM310 369h1v1h-1zM313 369h1v1h-1zM282 370h9v1h-9zM292 370h1v1h-1zM294 370h10v1h-10zM305 370h8v1h-8zM314 370h1v1h-1zM282 371h26v1h-26zM309 371h1v1h-1zM282 372h20v1h-20zM303 372h3v1h-3zM307 372h3v1h-3zM311 372h2v1h-2zM314 372h2v1h-2zM282 373h12v1h-12zM295 373h4v1h-4zM300 373h3v1h-3zM305 373h2v1h-2zM308 373h3v1h-3zM312 373h1v1h-1zM282 374h17v1h-17zM300 374h5v1h-5zM307 374h1v1h-1zM319 374h1v1h-1z"/>
<rect x="281.6" y="279.8" width="64.3" height="95.3" fill="none" stroke="#777" stroke-width="0.7"/>
<text transform="translate(276.2 333) scale(1.12 1) rotate(-90)" font-size="8.82" fill="#111" stroke="#111" stroke-width="0.25">FL2</text>
<text transform="translate(293.6 392.11) scale(0.93 1)" font-size="9.18" fill="#111" stroke="#111" stroke-width="0.1">FL<tspan dx="1.56">1 RSP2</tspan></text>
<text x="282" y="379.2" font-size="3.6" fill="#666" text-anchor="middle">10</text>
<text x="298.2" y="379.2" font-size="3.6" fill="#666" text-anchor="middle">10</text>
<text x="314.2" y="379.2" font-size="3.6" fill="#666" text-anchor="middle">10</text>
<text x="330.3" y="379.2" font-size="3.6" fill="#666" text-anchor="middle">10</text>
<text x="345.9" y="379.2" font-size="3.6" fill="#666" text-anchor="middle">10</text>
<text transform="translate(279.6 300) rotate(-90)" font-size="3.4" fill="#666" text-anchor="middle">10</text>
<text transform="translate(279.6 325) rotate(-90)" font-size="3.4" fill="#666" text-anchor="middle">10</text>
<text transform="translate(279.6 349) rotate(-90)" font-size="3.4" fill="#666" text-anchor="middle">10</text>
<text transform="translate(279.6 371) rotate(-90)" font-size="3.4" fill="#666" text-anchor="middle">10</text>
<line x1="365.9" y1="279.2" x2="365.9" y2="374.9" stroke="#999" stroke-width="0.9"/>
<line x1="365.9" y1="374.9" x2="424" y2="374.9" stroke="#111" stroke-width="1.1"/>
<line x1="364.7" y1="279.6" x2="365.9" y2="279.6" stroke="#999" stroke-width="0.6"/>
<line x1="364.7" y1="303" x2="365.9" y2="303" stroke="#999" stroke-width="0.6"/>
<line x1="364.7" y1="327" x2="365.9" y2="327" stroke="#999" stroke-width="0.6"/>
<line x1="364.7" y1="351" x2="365.9" y2="351" stroke="#999" stroke-width="0.6"/>
<polygon points="366,374.9 366,329.5 366.9,338 368.2,331.4 369.3,321 370.3,311 371.5,304 373,297.5 374.2,294.2 375.2,292.9 376.4,294.6 377.4,298.8 378.3,303 379.2,310 379.9,319 380.5,330 381,342 381.6,353 382.4,364 383.2,371.2 384.2,374.9" fill="#bcbcbc" stroke="#333" stroke-width="0.7"/>
<polyline points="366.2,329.2 366.9,338 368.2,331.4 369.3,321 370.3,311 371.5,304 373,297.5 374.2,294 375.2,292.6 376.4,294.4 377.4,298.6 378.3,303 379.2,310 379.9,319 380.6,331 381.4,343 382.2,351 383.2,355.4 385.2,356.6 388.5,357.9 391.8,360.1 395.1,363.4 397.4,366.8 400.7,371.2 404,374.2 408.4,374.9" fill="none" stroke="#111" stroke-width="1.0" stroke-linejoin="round"/>
<text transform="translate(362.1 341.3) scale(1.09 1) rotate(-90)" font-size="8.77" fill="#111" stroke="#111" stroke-width="0.25">Number</text>
<text transform="translate(395.6 292.65) scale(0.94 1)" font-size="9.09" fill="#111" stroke="#111" stroke-width="0.25">12.4%</text>
<text transform="translate(386 303.01) scale(0.97 1)" font-size="9.04" fill="#111" stroke="#111" stroke-width="0.25">uE RSP2+</text>
<text transform="translate(374.5 392.31) scale(0.94 1)" font-size="9.32" fill="#111" stroke="#111" stroke-width="0.1">FL<tspan dx="1.58">1 RSP2</tspan></text>
<text x="364.4" y="380.4" font-size="4.4" fill="#222" stroke="#222" stroke-width="0.15">10<tspan font-size="3" dy="-1.6">0</tspan></text>
<text x="381.9" y="380.4" font-size="4.4" fill="#222" stroke="#222" stroke-width="0.15">10<tspan font-size="3" dy="-1.6">1</tspan></text>
<text x="399.4" y="380.4" font-size="4.4" fill="#222" stroke="#222" stroke-width="0.15">10<tspan font-size="3" dy="-1.6">2</tspan></text>
<text x="416.9" y="380.4" font-size="4.4" fill="#222" stroke="#222" stroke-width="0.15">10<tspan font-size="3" dy="-1.6">3</tspan></text>
<text transform="translate(362.9 279.2) rotate(-90)" font-size="4.6" fill="#333" text-anchor="middle">400</text>
<text x="362.6" y="376.4" font-size="4.6" fill="#222" text-anchor="middle">0</text>
<line x1="447.4" y1="277.7" x2="447.4" y2="374.9" stroke="#999" stroke-width="0.9"/>
<line x1="447.4" y1="374.9" x2="507.8" y2="374.9" stroke="#111" stroke-width="1.1"/>
<line x1="446.2" y1="278.1" x2="447.4" y2="278.1" stroke="#999" stroke-width="0.6"/>
<line x1="446.2" y1="303.1" x2="447.4" y2="303.1" stroke="#999" stroke-width="0.6"/>
<line x1="446.2" y1="327" x2="447.4" y2="327" stroke="#999" stroke-width="0.6"/>
<line x1="446.2" y1="351" x2="447.4" y2="351" stroke="#999" stroke-width="0.6"/>
<polygon points="447.6,374.9 447.6,351.9 449,338 450.5,321 452.5,304 455,292.5 457.2,286.5 458.3,285.9 459.6,288.5 461.2,300 462.8,318 464.2,340 465.2,358 466,371 467,374.9" fill="#bcbcbc" stroke="#333" stroke-width="0.7"/>
<polyline points="447.9,346.7 449.2,334 451,317 453.3,300 455.6,290 457.6,284 458.6,284.3 460.2,288 461.5,298 462.7,310 464.2,324 465.8,338 467.3,348 469.5,356 472.5,362 476,366.5 480,369.5 485,371.8 491,373.4 499,374.5 505,374.9" fill="none" stroke="#111" stroke-width="1.2" stroke-linejoin="round"/>
<polyline points="448.3,358 449.6,342 451.5,322 453.5,304 455.8,292 457.9,286.5 459.4,290 460.8,300 462.2,318 463.6,338 465,356 466.6,368 468.5,373.5 471,374.9" fill="none" stroke="#222" stroke-width="0.8" stroke-dasharray="2 1"/>
<text transform="translate(442.92 341.3) scale(0.84 1) rotate(-90)" font-size="9.11" fill="#111" stroke="#111" stroke-width="0.25">Number</text>
<text transform="translate(474 292.71) scale(0.93 1)" font-size="9.32" fill="#111" stroke="#111" stroke-width="0.25">10.8%</text>
<text transform="translate(472.2 304.21) scale(0.89 1)" font-size="9.46" fill="#111" stroke="#111" stroke-width="0.25">uE C3+</text>
<text transform="translate(460.5 392.31) scale(0.92 1)" font-size="9.32" fill="#111" stroke="#111" stroke-width="0.1">FL<tspan dx="1.58">1 C3</tspan></text>
<text x="444.6" y="380.4" font-size="4.4" fill="#222" stroke="#222" stroke-width="0.15">10<tspan font-size="3" dy="-1.6">0</tspan></text>
<text x="463" y="380.4" font-size="4.4" fill="#222" stroke="#222" stroke-width="0.15">10<tspan font-size="3" dy="-1.6">1</tspan></text>
<text x="480.6" y="380.4" font-size="4.4" fill="#222" stroke="#222" stroke-width="0.15">10<tspan font-size="3" dy="-1.6">2</tspan></text>
<text x="498.3" y="380.4" font-size="4.4" fill="#222" stroke="#222" stroke-width="0.15">10<tspan font-size="3" dy="-1.6">3</tspan></text>
<text transform="translate(446.0 279.6) rotate(-90)" font-size="4.6" fill="#333" text-anchor="middle">500</text>
<text x="443.8" y="376.4" font-size="4.6" fill="#222" text-anchor="middle">0</text>
</svg>
</body></html>
